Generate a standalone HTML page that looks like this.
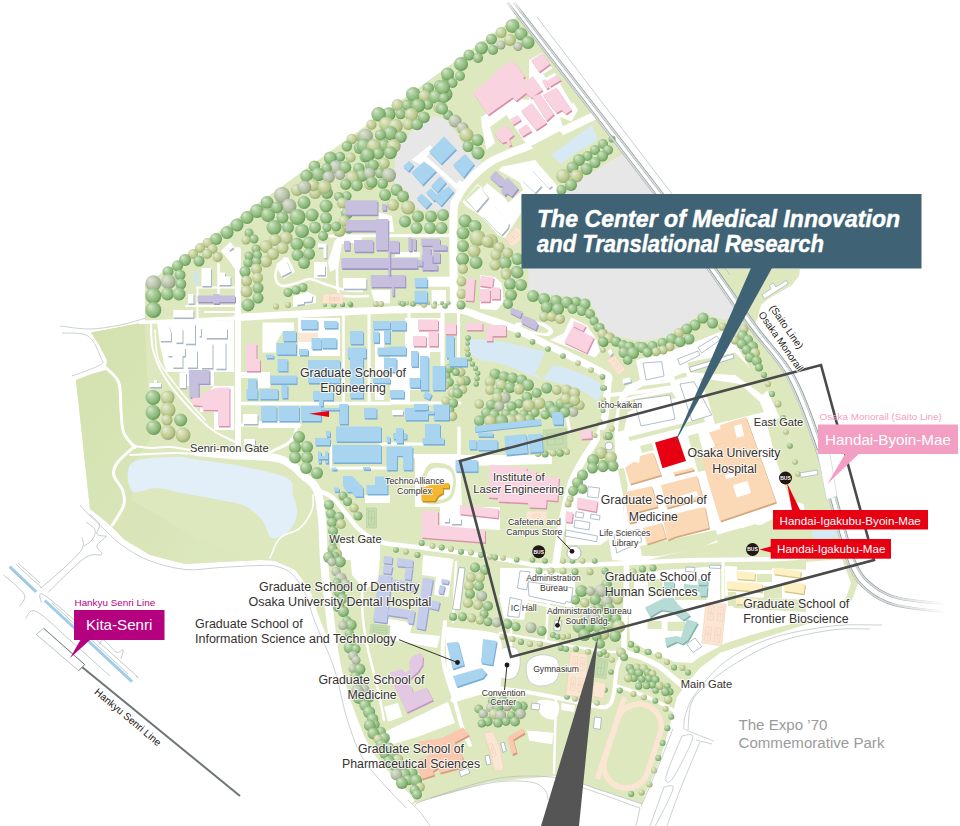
<!DOCTYPE html>
<html><head><meta charset="utf-8"><title>Campus Map</title>
<style>
html,body{margin:0;padding:0;background:#fff;}
body{width:960px;height:826px;overflow:hidden;font-family:"Liberation Sans",sans-serif;}
svg{display:block;font-family:"Liberation Sans",sans-serif;}
</style></head><body>
<svg width="960" height="826" viewBox="0 0 960 826">
<rect width="960" height="826" fill="#fff"/>
<defs><linearGradient id="gw" x1="0" y1="0" x2="1" y2="1"><stop offset="0" stop-color="#d3e1ae"/><stop offset="1" stop-color="#dde8bf"/></linearGradient><radialGradient id="tg" cx=".42" cy=".42" fx=".3" fy=".27" r=".62"><stop offset="0" stop-color="#d6e8cb"/><stop offset=".4" stop-color="#aacc9b"/><stop offset=".72" stop-color="#8bb97a"/><stop offset=".92" stop-color="#6e9f5f"/><stop offset="1" stop-color="#5a8b4d"/></radialGradient><radialGradient id="ty" cx=".42" cy=".42" fx=".3" fy=".27" r=".62"><stop offset="0" stop-color="#e7edd5"/><stop offset=".4" stop-color="#cfd9ac"/><stop offset=".72" stop-color="#b9c78b"/><stop offset=".92" stop-color="#9fae72"/><stop offset="1" stop-color="#8d9c61"/></radialGradient><radialGradient id="tk" cx=".42" cy=".42" fx=".3" fy=".27" r=".62"><stop offset="0" stop-color="#e0e5d7"/><stop offset=".42" stop-color="#c6cfb9"/><stop offset=".75" stop-color="#acb89d"/><stop offset=".93" stop-color="#929f83"/><stop offset="1" stop-color="#818f74"/></radialGradient><linearGradient id="fade" x1="0" y1="0" x2="1" y2="0"><stop offset="0" stop-color="#fff" stop-opacity="0"/><stop offset="1" stop-color="#fff" stop-opacity="1"/></linearGradient><linearGradient id="fadev" x1="0" y1="1" x2="0" y2="0"><stop offset="0" stop-color="#fff" stop-opacity="0"/><stop offset="1" stop-color="#fff" stop-opacity=".8"/></linearGradient></defs>
<polygon points="518,16 655,194 709,270 750,325 787,375 815,445 832,505 848,560 858,583 852,600 820,620 770,636 720,653 700,668 688,682 677,697 670,725 660,760 646,792 642,804 582,784 555,776 490,782 412,804 372,760 355,720 340,666 320,620 310,590 295,570 275,561 260,560 220,562 185,564 150,555 125,540 110,525 90,509 76,380 92,374 106,370 107,360 98,343 91,332.5 120,327 145,322 145,285" fill="#dde8bf" />
<polygon points="76,380 92,374 106,370 107,360 98,343 91,332.5 120,327 145,322 150,440 135,460 132,500 200,540 260,560 220,562 185,564 150,555 125,540 110,525 90,509" fill="url(#gw)" />
<polygon points="716,269 800,269 799,276 791.5,285.5 768,299 761,305 757.5,318 754,326 745,312 730,290" fill="#dde8bf" />
<!-- base.py -->
<polygon points="396.5,146.5 406.5,138 415,126.5 426.5,120 436.5,116 446.5,120 456.5,133 463,145 473,156.5 481.5,161.5 473,173 463,183 456.5,190 451.5,203 450,211.5 420,210 413,205 406.5,193 398,185 393,180 395,163" fill="#e7e7e7" />
<polygon points="560,192 622,154 655,194 709,270 737,310 726,320 716,318 703,312.5 687,323 667,336.5 642,341.5 617,336.5 600,325 597,315 588,299 560,296 528.3,291 528.3,200" fill="#e7e7e7" />
<path d="M132 463 C139.2 457.3 163.7 457.5 175 457 C186.3 456.5 189.2 458.5 200 460 C210.8 461.5 225.5 463.0 240 466 C254.5 469.0 278.2 473.2 287 478 C295.8 482.8 291.3 489.3 293 495 C294.7 500.7 297.5 506.2 297 512 C296.5 517.8 294.2 525.7 290 530 C285.8 534.3 276.7 539.7 272 538 C267.3 536.3 266.5 525.3 262 520 C257.5 514.7 252.0 509.3 245 506 C238.0 502.7 230.5 502.2 220 500 C209.5 497.8 192.5 495.0 182 493 C171.5 491.0 165.3 488.3 157 488 C148.7 487.7 136.2 495.2 132 491 C127.8 486.8 124.8 468.7 132 463Z" fill="#e2eef8" />
<polygon points="551,155 592,125 598,140 575,153 561,164" fill="#d8e9f6" />
<polygon points="468,333 471,339 490,340 509,343 527.5,347.5 545,351.7 541,362 535,373.5 543,380 553.5,365 565,368 586,375.6 600,383 601.5,393 598,401.7 586,393 573,387 559,383 544,380 527.5,374.6 509,366 494,362 479.6,360 471,354 468,343" fill="#d8e9f6" />
<!-- roads.py -->
<polyline points="140,322.5 238,318" fill="none" stroke="#fff" stroke-width="3.5" stroke-linecap="round" stroke-linejoin="round"/>
<path d="M237 317.5 C247.5 316.9 274.5 315.2 300 314 C325.5 312.8 364.2 310.8 390 310 C415.8 309.2 440.0 308.4 455 309.5 C470.0 310.6 470.3 313.4 480 316.5 C489.7 319.6 501.3 323.1 513 328 C524.7 332.9 538.8 340.5 550 346 C561.2 351.5 570.5 356.2 580 361 C589.5 365.8 602.0 371.5 606.7 375 C611.4 378.5 608.0 378.2 608 382 C608.0 385.8 607.2 391.8 606.7 397.5 C606.2 403.2 605.8 411.4 605 416.5 C604.2 421.6 603.8 423.6 602 428 C600.2 432.4 597.2 437.7 594 443 C590.8 448.3 586.7 453.7 583 460 C579.3 466.3 575.0 473.2 572 481 C569.0 488.8 567.0 498.0 565 507 C563.0 516.0 561.5 525.8 560 535 C558.5 544.2 556.7 557.5 556 562" fill="none" stroke="#fff" stroke-width="7.2" stroke-linecap="round" stroke-linejoin="round"/>
<polyline points="238,250 238,455" fill="none" stroke="#fff" stroke-width="6" stroke-linecap="round" stroke-linejoin="round"/>
<path d="M196 452 C201.7 452.5 216.0 453.8 230 455 C244.0 456.2 267.5 455.3 280 459 C292.5 462.7 298.8 471.8 305 477 C311.2 482.2 314.2 482.8 317 490 C319.8 497.2 320.8 508.3 322 520 C323.2 531.7 323.0 546.7 324 560 C325.0 573.3 325.8 582.3 328 600 C330.2 617.7 333.0 646.7 337 666 C341.0 685.3 346.2 700.7 352 716 C357.8 731.3 362.3 744.0 372 758 C381.7 772.0 403.7 793.0 410 800" fill="none" stroke="#fff" stroke-width="8" stroke-linecap="round" stroke-linejoin="round"/>
<path d="M317 490 C319.7 491.3 328.0 493.8 333 498 C338.0 502.2 342.5 509.7 347 515 C351.5 520.3 354.5 525.5 360 530 C365.5 534.5 370.0 539.1 380 542 C390.0 544.9 405.0 545.5 420 547.5 C435.0 549.5 455.0 551.8 470 554 C485.0 556.2 498.3 558.6 510 560.5 C521.7 562.4 528.3 564.8 540 565.5 C551.7 566.2 566.7 565.3 580 565 C593.3 564.7 606.7 564.1 620 563.5 C633.3 562.9 646.7 562.1 660 561.5 C673.3 560.9 680.0 560.4 700 560 C720.0 559.6 760.8 559.7 780 559 C799.2 558.3 809.2 556.5 815 556" fill="none" stroke="#fff" stroke-width="4.5" stroke-linecap="round" stroke-linejoin="round"/>
<path d="M313 495 C312.8 497.5 314.2 504.5 312 510 C309.8 515.5 305.3 523.3 300 528 C294.7 532.7 285.0 533.0 280 538 C275.0 543.0 271.7 554.7 270 558" fill="none" stroke="#fff" stroke-width="1.6" stroke-linecap="round" stroke-linejoin="round"/>
<path d="M297 425 C296.5 426.8 295.7 432.8 294 436 C292.3 439.2 291.0 441.3 287 444 C283.0 446.7 272.8 450.7 270 452" fill="none" stroke="#fff" stroke-width="3" stroke-linecap="round" stroke-linejoin="round"/>
<polyline points="343.5,314 343.5,402" fill="none" stroke="#fff" stroke-width="2.5" stroke-linecap="round" stroke-linejoin="round"/>
<polyline points="369,314 369,404" fill="none" stroke="#fff" stroke-width="3" stroke-linecap="round" stroke-linejoin="round"/>
<polyline points="409,314 409,356" fill="none" stroke="#fff" stroke-width="3" stroke-linecap="round" stroke-linejoin="round"/>
<polyline points="442.5,314 442.5,366" fill="none" stroke="#fff" stroke-width="4" stroke-linecap="round" stroke-linejoin="round"/>
<polyline points="458.5,312 458.5,372" fill="none" stroke="#fff" stroke-width="3" stroke-linecap="round" stroke-linejoin="round"/>
<polyline points="331,445 331,468" fill="none" stroke="#fff" stroke-width="2" stroke-linecap="round" stroke-linejoin="round"/>
<polyline points="459,428 459,458" fill="none" stroke="#fff" stroke-width="3.5" stroke-linecap="round" stroke-linejoin="round"/>
<polyline points="300,314 300,322" fill="none" stroke="#fff" stroke-width="2" stroke-linecap="round" stroke-linejoin="round"/>
<polyline points="241,403.5 390,403.5" fill="none" stroke="#fff" stroke-width="3.5" stroke-linecap="round" stroke-linejoin="round"/>
<polyline points="241,425 300,425" fill="none" stroke="#fff" stroke-width="3" stroke-linecap="round" stroke-linejoin="round"/>
<polyline points="333,468 390,468" fill="none" stroke="#fff" stroke-width="3" stroke-linecap="round" stroke-linejoin="round"/>
<polyline points="390,456 460,456" fill="none" stroke="#fff" stroke-width="4" stroke-linecap="round" stroke-linejoin="round"/>
<polyline points="381,444 425,444" fill="none" stroke="#fff" stroke-width="3" stroke-linecap="round" stroke-linejoin="round"/>
<polyline points="390,403 460,403" fill="none" stroke="#fff" stroke-width="3" stroke-linecap="round" stroke-linejoin="round"/>
<polygon points="262.5,322.5 294,322.5 294,331 283,331 276,343 276,352.5 262.5,352.5" fill="#fff" />
<polygon points="298,318 340,318 340,356 298,356" fill="#fff" />
<polygon points="241,372 270,372 270,388 258,388 258,378 241,378" fill="#fff" />
<polygon points="258,421 300,421 300,428 258,428" fill="#fff" />
<polygon points="405,318 441,318 441,352 430,352 430,390 405,390" fill="#fff" />
<polygon points="375,330 384,330 384,400 375,400" fill="#fff" />
<polygon points="390,356 410,356 410,404 390,404" fill="#fff" />
<polygon points="340,543 380,543 380,560 340,560" fill="#fff" />
<polygon points="365,495 390,495 390,503 365,503" fill="#fff" />
<polygon points="415,458 460,458 462,507 415,507" fill="#fff" />
<path d="M432 463 C436.3 462.0 446.0 463.2 450 466 C454.0 468.8 455.7 474.7 456 480 C456.3 485.3 455.0 494.0 452 498 C449.0 502.0 442.7 503.3 438 504 C433.3 504.7 427.0 504.7 424 502 C421.0 499.3 420.0 493.0 420 488 C420.0 483.0 422.0 476.2 424 472 C426.0 467.8 427.7 464.0 432 463Z" fill="#dde8bf" />
<path d="M434 468 C437.7 467.2 445.8 467.8 449 470 C452.2 472.2 453.0 476.7 453 481 C453.0 485.3 451.5 492.8 449 496 C446.5 499.2 441.7 499.7 438 500 C434.3 500.3 429.3 500.2 427 498 C424.7 495.8 424.0 490.8 424 487 C424.0 483.2 425.3 478.2 427 475 C428.7 471.8 430.3 468.8 434 468Z" fill="#fff" />
<polygon points="460,455 552,455 552,464 460,466" fill="#fff" />
<polygon points="440,507 500,507 500,530 440,527" fill="#fff" />
<polygon points="221,251 230,242 236,248 241,260 240,290 235.5,290 235.5,270 230,262" fill="#fff" />
<polyline points="218.5,264 218.5,293" fill="none" stroke="#fff" stroke-width="2.5" stroke-linecap="round" stroke-linejoin="round"/>
<polyline points="197,287.5 238,287.5" fill="none" stroke="#fff" stroke-width="2" stroke-linecap="round" stroke-linejoin="round"/>
<polyline points="197.5,287 197.5,320" fill="none" stroke="#fff" stroke-width="2" stroke-linecap="round" stroke-linejoin="round"/>
<polyline points="186,306 238,306" fill="none" stroke="#fff" stroke-width="2" stroke-linecap="round" stroke-linejoin="round"/>
<polyline points="205,312 238,312" fill="none" stroke="#fff" stroke-width="2" stroke-linecap="round" stroke-linejoin="round"/>
<path d="M285 258 C283.7 259.7 278.5 264.3 277 268 C275.5 271.7 275.0 277.0 276 280 C277.0 283.0 279.0 285.7 283 286 C287.0 286.3 295.5 283.2 300 282 C304.5 280.8 305.8 278.7 310 279 C314.2 279.3 319.2 282.2 325 284 C330.8 285.8 338.8 288.8 345 290 C351.2 291.2 359.2 290.8 362 291" fill="none" stroke="#fff" stroke-width="2.5" stroke-linecap="round" stroke-linejoin="round"/>
<polygon points="276,264 288,257 295,272 283,279" fill="#fff" />
<polygon points="293,296 308,292 316,296 316,303 293,307" fill="#fff" />
<polygon points="328,262 335,240 345,236 362,236 362,242 342,244 338,268 330,272" fill="#fff" />
<polygon points="314,262 327,262 327,278 314,278" fill="#fff" />
<path d="M454 308 C453.9 292.5 452.8 233.5 453.5 215 C454.2 196.5 455.8 202.3 458 197 C460.2 191.7 463.3 187.5 467 183 C470.7 178.5 475.8 173.7 480 170 C484.2 166.3 487.0 163.8 492 161 C497.0 158.2 504.3 155.3 510 153 C515.7 150.7 517.7 150.5 526 147 C534.3 143.5 547.7 137.7 560 132 C572.3 126.3 593.3 116.2 600 113" fill="none" stroke="#fff" stroke-width="8" stroke-linecap="round" stroke-linejoin="round"/>
<polygon points="411.5,160 430,145 433.5,148.5 426.5,156.5 456.5,183.5 460,180 463.5,183.5 456.5,190 430,165 418.5,163.5" fill="#fff" />
<polygon points="481,117 513,98 529,100 529,60 542.5,52.5 578,110 571.5,121.5 560,117 563,127 527,145 506.5,115 490,127 495,143 486.5,150 482,127" fill="#fff" />
<polygon points="543,74 553,68 556,72 546,78" fill="#dde8bf" />
<polygon points="560,84 566,80 576,98 572,104" fill="#dde8bf" />
<polygon points="531,146 560,131 563,135 535,150" fill="#dde8bf" />
<polygon points="341,200 346,200 346,232 341,232" fill="#fff" />
<polyline points="330,236 450,235.5" fill="none" stroke="#fff" stroke-width="3" stroke-linecap="round" stroke-linejoin="round"/>
<path d="M338 238 C337.8 242.0 337.0 253.3 337 262 C337.0 270.7 336.7 284.3 338 290 C339.3 295.7 340.0 295.0 345 296 C350.0 297.0 364.2 296.0 368 296" fill="none" stroke="#fff" stroke-width="2.5" stroke-linecap="round" stroke-linejoin="round"/>
<polygon points="341,203 347,198 347,232 341,232" fill="#fff" />
<polygon points="378,212 392,216 394,232 380,232" fill="#fff" />
<polygon points="427.5,276.7 450,276.7 450,286.7 427.5,286.7" fill="#fff" />
<polygon points="431.7,290 446,290 446,304 431.7,304" fill="#fff" />
<polygon points="370.8,290 390,290 390,303.3 375,303.3" fill="#fff" />
<polygon points="395,252 420,252 420,257 395,257" fill="#fff" />
<polygon points="462.5,201.7 477.5,184 483,188 501.7,166.7 535,160 556.7,185 556.7,196 521,196 521,213 505,238 498,235 483,218 475,212 466.7,206.7" fill="#fff" />
<polygon points="481,178 494,167.5 520,182.5 523,190 508,203 505,198" fill="#dde8bf" />
<polygon points="464,200 478,185 490,198 478,213" fill="#dde8bf" />
<polygon points="505,238.3 516.7,226.7 521,230 521,240 511.7,247.5" fill="#fbe6d4" stroke="#f0cdb2" stroke-width="0.5" />
<polygon points="480,275 495,277 502,284 503.5,302 497,310 480,309" fill="#fff" />
<path d="M515.8 323.3 C519.1 322.1 532.3 321.1 538 321.7 C543.7 322.3 547.5 324.9 550 326.7 C552.5 328.5 553.5 330.9 553 332.5 C552.5 334.1 550.5 335.9 546.7 336 C542.9 336.1 534.8 334.2 530 333 C525.2 331.8 520.4 330.6 518 329 C515.6 327.4 512.5 324.5 515.8 323.3Z" fill="#fff" />
<path d="M521 325.5 C522.3 324.6 533.7 324.4 538 325 C542.3 325.6 545.3 327.8 547 329 C548.7 330.2 548.5 331.3 548 332 C547.5 332.7 547.0 333.2 544 333 C541.0 332.8 533.8 331.8 530 330.5 C526.2 329.2 519.7 326.4 521 325.5Z" fill="#dde8bf" />
<polygon points="571,317.5 586.7,325 596.7,340 600,351.7 595,357.5 550,340 564,333" fill="#fff" />
<polygon points="636,360 668,352 700,340 722,331 738,348 752,372 768,392 790,440 800,480 806,520 640,562 612,560 606,520 612,440 618,400 626,386 640,380" fill="#fff" />
<polygon points="687.5,362.5 735,352.5 745,362.5 767.5,390 762.5,395 735,375 690,372.5" fill="#dde8bf" />
<polygon points="642.5,386 670,382.5 672.5,388 625,398" fill="#dde8bf" />
<polygon points="674,376.7 683,373 686.7,373 686.7,376.7 675,380" fill="#dde8bf" />
<polygon points="620,402 672,392 676,398 640,406 628,412 624,430 618,432" fill="#dde8bf" />
<polygon points="700,378 740,384 760,402 764,412 715,424 708,400" fill="#dde8bf" />
<polygon points="628,437 704,418 705,422 630,441" fill="#dde8bf" />
<polygon points="640,446 652,443 654,450 642,453" fill="#dde8bf" />
<polygon points="688,436 698,433 708,470 698,472" fill="#dde8bf" />
<polygon points="716,535 770,520 800,508 806,520 800,540 720,556" fill="#dde8bf" />
<polygon points="640,546 716,530 718,540 700,548 660,556 642,556" fill="#dde8bf" />
<polygon points="612,470 624,468 628,486 622,520 612,524" fill="#dde8bf" />
<polygon points="766,420 782,418 800,470 806,505 790,500 776,460" fill="#dde8bf" />
<polygon points="600,430 614,428 616,470 600,472" fill="#dde8bf" />
<polygon points="586,470 600,462 618,470 624,500 622,530 600,545 566,545 566,510 575,495" fill="#fff" />
<path d="M626.5 566 C626.4 571.7 626.4 587.7 626 600 C625.6 612.3 624.0 631.3 624 640 C624.0 648.7 623.3 649.2 626 652 C628.7 654.8 634.3 654.5 640 657 C645.7 659.5 653.7 662.8 660 667 C666.3 671.2 673.3 678.2 678 682 C682.7 685.8 686.3 688.7 688 690" fill="none" stroke="#fff" stroke-width="5.5" stroke-linecap="round" stroke-linejoin="round"/>
<path d="M617 686 C620.8 687.3 632.8 691.2 640 694 C647.2 696.8 654.0 700.0 660 703 C666.0 706.0 673.3 710.5 676 712" fill="none" stroke="#fff" stroke-width="3.5" stroke-linecap="round" stroke-linejoin="round"/>
<path d="M500 633 C506.7 634.2 527.5 637.7 540 640 C552.5 642.3 563.3 644.7 575 646.7 C586.7 648.7 601.5 651.5 610 652 C618.5 652.5 623.3 650.3 626 650" fill="none" stroke="#fff" stroke-width="2.5" stroke-linecap="round" stroke-linejoin="round"/>
<polyline points="511,575 511,656" fill="none" stroke="#fff" stroke-width="2.5" stroke-linecap="round" stroke-linejoin="round"/>
<polyline points="548,604 546,640" fill="none" stroke="#fff" stroke-width="2.5" stroke-linecap="round" stroke-linejoin="round"/>
<path d="M500 596 C508.0 597.7 535.5 603.3 548 606 C560.5 608.7 570.5 611.0 575 612" fill="none" stroke="#fff" stroke-width="2.5" stroke-linecap="round" stroke-linejoin="round"/>
<polygon points="500,568 530,568 575,576 575,608 528,600 524,620 504,618 500,600" fill="#fff" />
<path d="M527 663 C528.8 658.7 534.8 655.8 539.6 655 C544.4 654.2 552.4 655.8 555.6 658.3 C558.8 660.8 559.0 666.0 559 669.8 C559.0 673.6 558.4 678.3 555.6 681 C552.8 683.7 546.4 686.0 542 686 C537.6 686.0 531.5 684.8 529 681 C526.5 677.2 525.2 667.3 527 663Z" fill="#fff" stroke="#b7c3cd" stroke-width="0.7" />
<path d="M498 653.7 C499.1 648.8 504.2 647.6 507.5 647 C510.8 646.4 515.7 647.0 517.8 650 C519.9 653.0 520.6 660.4 520 665 C519.4 669.6 517.2 675.8 514 677.8 C510.8 679.8 503.3 680.7 500.6 676.7 C497.9 672.7 496.9 658.7 498 653.7Z" fill="#fff" stroke="#b7c3cd" stroke-width="0.7" />
<polygon points="628,596 645,598 664,596 712,600 730,600 734,608 806,612 846,602 836,616 800,622 779,627 753,634.5 726,643 700,657 692,663 675,662 650,652 630,640" fill="#fff" />
<polygon points="634,574 664,570 720,566 720,600 634,600" fill="#fff" />
<polygon points="647.5,621 661.7,621 661.7,629 647.5,629" fill="#dde8bf" />
<polygon points="667.5,621.7 685,621.7 685,631 667.5,631" fill="#dde8bf" />
<polygon points="648,580 663,578 662,595 648,597" fill="#dde8bf" />
<polygon points="675,595 706.7,595 706.7,600 675,600" fill="#dde8bf" />
<polygon points="640,568 718,563 718,566 640,571" fill="#dde8bf" />
<polyline points="723,562 723,602" fill="none" stroke="#fff" stroke-width="3" stroke-linecap="round" stroke-linejoin="round"/>
<polygon points="725,566 812,570 810,600 725,596" fill="#fff" />
<polygon points="737,566 772,566 772,570 737,570" fill="#dde8bf" />
<polygon points="757,574 772,574 772,582 757,582" fill="#dde8bf" />
<polygon points="764,586 782,586 782,598 764,598" fill="#dde8bf" />
<polygon points="728,592 736,592 736,606 728,606" fill="#dde8bf" />
<polygon points="806,562 842,559 851,583 846,598 833,613 806,612" fill="#fff" />
<path d="M722 528 C724.2 527.3 731.7 524.2 735 524 C738.3 523.8 739.2 527.3 742 527 C744.8 526.7 749.0 522.5 752 522 C755.0 521.5 756.7 524.7 760 524 C763.3 523.3 767.7 520.0 772 518 C776.3 516.0 783.7 513.0 786 512" fill="none" stroke="#fff" stroke-width="2" stroke-linecap="round" stroke-linejoin="round"/>
<polygon points="423,555 453.5,559 448.5,597 434,595 436,577 422,575" fill="#fff" />
<polygon points="385,618 413,623 410,633 440,636 437,648 390,640" fill="#fff" />
<polygon points="445,626.7 485,631 500,634 504,660 500,690 456,700 447,678" fill="#fff" />
<polyline points="456,562 453,622" fill="none" stroke="#fff" stroke-width="2.5" stroke-linecap="round" stroke-linejoin="round"/>
<path d="M445 622 C444.7 628.3 441.3 646.7 443 660 C444.7 673.3 451.8 690.5 455 701.7 C458.2 712.9 459.5 719.8 462 727 C464.5 734.2 468.7 742.0 470 745" fill="none" stroke="#fff" stroke-width="4" stroke-linecap="round" stroke-linejoin="round"/>
<path d="M453 700 L480 692" fill="none" stroke="#fff" stroke-width="5" stroke-linecap="round" stroke-linejoin="round"/>
<path d="M366 552 C365.3 560.0 362.0 585.3 362 600 C362.0 614.7 363.3 625.0 366 640 C368.7 655.0 375.0 676.7 378 690 C381.0 703.3 383.0 715.0 384 720" fill="none" stroke="#fff" stroke-width="2.5" stroke-linecap="round" stroke-linejoin="round"/>
<polygon points="384,706.7 398,703 402.5,716.7 388,721.7" fill="#fff" />
<polygon points="385,731.7 448,701.7 455,723 418,736.7 390,745" fill="#fff" />
<polygon points="350,553 372,556 372,562 350,560" fill="#fff" />
<path d="M478 686 C485.0 686.8 507.0 689.1 520 691 C533.0 692.9 544.3 695.2 556 697.5 C567.7 699.8 581.7 703.4 590 705 C598.3 706.6 602.2 708.3 606 707 C609.8 705.7 611.2 703.5 613 697 C614.8 690.5 615.5 675.0 617 668 C618.5 661.0 621.2 657.2 622 655" fill="none" stroke="#fff" stroke-width="4" stroke-linecap="round" stroke-linejoin="round"/>
<polyline points="556,697 554,773" fill="none" stroke="#fff" stroke-width="2.5" stroke-linecap="round" stroke-linejoin="round"/>
<polygon points="527,730.5 553.3,732.8 552.2,744.3 529.3,740.8" fill="#fff" />
<path d="M538.4 700.7 C541.1 698.6 555.1 700.0 558 703 C560.9 706.0 558.3 716.9 555.6 719 C552.9 721.1 544.8 718.6 541.9 715.6 C539.0 712.6 535.7 702.8 538.4 700.7Z" fill="#fff" />
<polygon points="561.3,703 575,705.3 574,712 561.3,710" fill="#fff" />
<g transform="rotate(18 632.5 746)"><rect x="610" y="703" width="45" height="86" rx="22.5" fill="none" stroke="#fbe6d4" stroke-width="5.5"/></g>
<polyline points="624.5,697 597.5,779" fill="none" stroke="#fbe6d4" stroke-width="5.5" />
<path d="M106 368 C108.1 370.4 116.2 375.5 118.7 382.5 C121.2 389.5 120.2 401.7 121 410 C121.8 418.3 121.4 426.2 123.7 432.5 C126.0 438.8 133.1 445.0 135 447.5" fill="none" stroke="#fff" stroke-width="3" stroke-linecap="round" stroke-linejoin="round"/>
<path d="M135 446 C132.1 448.8 121.0 457.7 117.5 462.5 C114.0 467.3 112.9 470.4 113.7 475 C114.5 479.6 120.8 485.0 122.5 490 C124.2 495.0 125.4 499.2 123.7 505 C122.0 510.8 114.4 521.7 112.5 525" fill="none" stroke="#fff" stroke-width="3" stroke-linecap="round" stroke-linejoin="round"/>
<polygon points="157,322 234,320 234,372 214,372 214,386 186,386 186,372 166,372 160,345" fill="#fff" />
<path d="M151 323.7 C151.4 328.5 150.5 342.3 153.7 352.5 C156.9 362.7 161.0 372.8 170 385 C179.0 397.2 196.7 416.5 207.5 426 C218.3 435.5 230.4 439.3 235 442" fill="none" stroke="#fff" stroke-width="2" stroke-linecap="round" stroke-linejoin="round"/>
<path d="M155 330 C155.6 335.0 154.9 350.4 158.7 360 C162.4 369.6 169.8 377.5 177.5 387.5 C185.2 397.5 200.4 414.6 205 420" fill="none" stroke="#fff" stroke-width="1.5" stroke-linecap="round" stroke-linejoin="round"/>
<polygon points="214,386 234,386 234,430 214,430 214,412 200,412 200,400" fill="#fff" />
<path d="M134 446 C136.7 446.3 144.0 447.8 150 448 C156.0 448.2 162.3 446.5 170 447 C177.7 447.5 191.7 450.3 196 451" fill="none" stroke="#fff" stroke-width="2" stroke-linecap="round" stroke-linejoin="round"/>
<path d="M130 455 C133.3 454.8 142.5 454.3 150 454 C157.5 453.7 167.3 453.0 175 453 C182.7 453.0 192.5 453.8 196 454" fill="none" stroke="#fff" stroke-width="1.8" stroke-linecap="round" stroke-linejoin="round"/>
<polygon points="350,552 380,556 378,580 365,590 352,575" fill="#fff" />
<polyline points="566,412 570,432" fill="none" stroke="#fff" stroke-width="3" stroke-linecap="round" stroke-linejoin="round"/>
<path d="M609 395 C614.2 394.5 629.8 393.2 640 392 C650.2 390.8 661.5 389.0 670 387.5 C678.5 386.0 687.5 383.8 691 383" fill="none" stroke="#fff" stroke-width="4" stroke-linecap="round" stroke-linejoin="round"/>
<!-- trees.py -->
<circle cx="297.0" cy="190.0" r="6.0" fill="url(#ty)"/>
<circle cx="315.0" cy="193.0" r="6.0" fill="url(#ty)"/>
<circle cx="327.0" cy="193.0" r="6.0" fill="url(#tg)"/>
<circle cx="282.0" cy="195.0" r="8.0" fill="url(#tk)"/>
<circle cx="267.0" cy="202.5" r="6.5" fill="url(#tg)"/>
<circle cx="304.0" cy="202.5" r="6.5" fill="url(#tg)"/>
<circle cx="289.0" cy="206.0" r="7.5" fill="url(#tk)"/>
<circle cx="326.0" cy="206.0" r="6.5" fill="url(#tg)"/>
<circle cx="277.0" cy="207.5" r="6.0" fill="url(#tg)"/>
<circle cx="257.0" cy="211.0" r="7.0" fill="url(#tg)"/>
<circle cx="268.0" cy="215.0" r="7.0" fill="url(#tg)"/>
<circle cx="312.0" cy="215.0" r="6.5" fill="url(#tg)"/>
<circle cx="297.5" cy="217.0" r="8.0" fill="url(#tg)"/>
<circle cx="247.0" cy="217.5" r="6.5" fill="url(#tg)"/>
<circle cx="282.5" cy="217.5" r="6.0" fill="url(#tg)"/>
<circle cx="326.0" cy="218.0" r="6.0" fill="url(#tg)"/>
<circle cx="237.0" cy="225.0" r="6.5" fill="url(#tg)"/>
<circle cx="336.0" cy="227.0" r="4.5" fill="url(#tg)"/>
<circle cx="274.0" cy="227.5" r="7.5" fill="url(#tg)"/>
<circle cx="288.0" cy="227.5" r="6.0" fill="url(#tg)"/>
<circle cx="315.0" cy="227.5" r="6.0" fill="url(#tg)"/>
<circle cx="327.0" cy="227.5" r="4.5" fill="url(#tg)"/>
<circle cx="302.0" cy="231.0" r="7.0" fill="url(#tg)"/>
<circle cx="227.0" cy="232.5" r="6.5" fill="url(#tg)"/>
<circle cx="249.0" cy="233.0" r="4.5" fill="url(#tg)"/>
<circle cx="323.0" cy="236.0" r="5.0" fill="url(#tg)"/>
<circle cx="286.0" cy="238.0" r="6.5" fill="url(#ty)"/>
<circle cx="216.0" cy="239.0" r="6.0" fill="url(#tg)"/>
<circle cx="254.0" cy="239.0" r="4.5" fill="url(#tg)"/>
<circle cx="275.0" cy="240.0" r="6.0" fill="url(#ty)"/>
<circle cx="246.0" cy="240.0" r="4.5" fill="url(#ty)"/>
<circle cx="207.5" cy="243.0" r="5.0" fill="url(#ty)"/>
<circle cx="309.0" cy="243.0" r="6.5" fill="url(#tg)"/>
<circle cx="297.0" cy="244.0" r="6.5" fill="url(#tg)"/>
<circle cx="266.0" cy="246.5" r="6.5" fill="url(#ty)"/>
<circle cx="200.0" cy="248.0" r="5.0" fill="url(#ty)"/>
<circle cx="282.5" cy="248.0" r="6.0" fill="url(#ty)"/>
<circle cx="212.5" cy="249.0" r="5.0" fill="url(#ty)"/>
<circle cx="256.0" cy="249.0" r="4.5" fill="url(#tg)"/>
<circle cx="193.0" cy="254.0" r="5.0" fill="url(#ty)"/>
<circle cx="207.0" cy="254.0" r="5.0" fill="url(#ty)"/>
<circle cx="309.0" cy="254.0" r="6.0" fill="url(#tg)"/>
<circle cx="273.0" cy="254.0" r="6.0" fill="url(#ty)"/>
<circle cx="297.5" cy="255.0" r="6.0" fill="url(#tg)"/>
<circle cx="257.5" cy="255.0" r="4.5" fill="url(#tg)"/>
<circle cx="249.0" cy="256.0" r="4.5" fill="url(#tg)"/>
<circle cx="217.5" cy="257.0" r="5.0" fill="url(#ty)"/>
<circle cx="185.0" cy="260.0" r="6.0" fill="url(#tg)"/>
<circle cx="199.0" cy="261.0" r="5.5" fill="url(#tg)"/>
<circle cx="266.0" cy="261.5" r="6.0" fill="url(#ty)"/>
<circle cx="256.5" cy="261.5" r="4.5" fill="url(#tg)"/>
<circle cx="304.0" cy="263.0" r="6.0" fill="url(#tg)"/>
<circle cx="248.0" cy="263.0" r="4.5" fill="url(#tg)"/>
<circle cx="256.5" cy="269.0" r="5.5" fill="url(#ty)"/>
<circle cx="245.0" cy="271.5" r="5.5" fill="url(#tg)"/>
<circle cx="257.5" cy="278.0" r="5.5" fill="url(#ty)"/>
<circle cx="246.5" cy="281.0" r="5.5" fill="url(#ty)"/>
<circle cx="303.0" cy="287.5" r="4.5" fill="url(#tg)"/>
<circle cx="258.0" cy="288.0" r="5.5" fill="url(#tg)"/>
<circle cx="296.0" cy="290.0" r="4.5" fill="url(#tg)"/>
<circle cx="246.5" cy="291.5" r="6.0" fill="url(#ty)"/>
<circle cx="288.0" cy="292.5" r="4.5" fill="url(#tg)"/>
<circle cx="258.0" cy="298.0" r="5.5" fill="url(#tg)"/>
<circle cx="248.0" cy="305.0" r="6.5" fill="url(#tg)"/>
<circle cx="288.0" cy="305.0" r="3.0" fill="url(#ty)"/>
<circle cx="325.0" cy="305.0" r="2.0" fill="url(#tg)"/>
<circle cx="333.0" cy="305.0" r="2.0" fill="url(#tg)"/>
<circle cx="343.0" cy="305.0" r="2.0" fill="url(#tg)"/>
<circle cx="351.0" cy="305.0" r="2.4" fill="url(#tg)"/>
<circle cx="276.0" cy="306.5" r="3.0" fill="url(#ty)"/>
<circle cx="177.5" cy="265.8" r="5.5" fill="url(#tg)"/>
<circle cx="168.0" cy="271.7" r="5.5" fill="url(#tg)"/>
<circle cx="180.0" cy="275.0" r="5.5" fill="url(#tg)"/>
<circle cx="168.3" cy="281.7" r="7.5" fill="url(#tk)"/>
<circle cx="153.3" cy="283.3" r="8.0" fill="url(#tk)"/>
<circle cx="180.8" cy="284.0" r="5.5" fill="url(#tg)"/>
<circle cx="167.5" cy="294.0" r="6.5" fill="url(#tg)"/>
<circle cx="179.0" cy="294.0" r="6.5" fill="url(#tg)"/>
<circle cx="153.3" cy="295.8" r="8.0" fill="url(#tg)"/>
<circle cx="153.3" cy="310.0" r="8.0" fill="url(#tg)"/>
<circle cx="362.3" cy="138.0" r="5.9" fill="url(#tg)"/>
<circle cx="351.8" cy="139.0" r="5.3" fill="url(#ty)"/>
<circle cx="346.9" cy="146.3" r="5.2" fill="url(#tg)"/>
<circle cx="368.0" cy="147.5" r="5.5" fill="url(#tg)"/>
<circle cx="359.4" cy="148.1" r="5.8" fill="url(#tg)"/>
<circle cx="340.1" cy="156.7" r="5.0" fill="url(#tg)"/>
<circle cx="364.8" cy="157.1" r="5.3" fill="url(#tg)"/>
<circle cx="350.6" cy="157.5" r="5.1" fill="url(#ty)"/>
<circle cx="330.2" cy="157.9" r="6.4" fill="url(#tg)"/>
<circle cx="370.6" cy="165.4" r="5.6" fill="url(#tg)"/>
<circle cx="314.4" cy="166.2" r="5.8" fill="url(#tg)"/>
<circle cx="336.0" cy="167.1" r="6.9" fill="url(#tk)"/>
<circle cx="345.2" cy="167.3" r="6.1" fill="url(#tg)"/>
<circle cx="326.6" cy="168.3" r="5.2" fill="url(#tg)"/>
<circle cx="358.8" cy="168.5" r="5.8" fill="url(#tg)"/>
<circle cx="318.1" cy="174.3" r="6.9" fill="url(#tg)"/>
<circle cx="340.0" cy="174.8" r="5.1" fill="url(#tk)"/>
<circle cx="361.8" cy="175.7" r="6.2" fill="url(#tg)"/>
<circle cx="306.4" cy="175.8" r="6.2" fill="url(#tg)"/>
<circle cx="328.6" cy="177.1" r="6.2" fill="url(#tk)"/>
<circle cx="352.2" cy="177.6" r="6.9" fill="url(#ty)"/>
<circle cx="345.7" cy="184.4" r="5.6" fill="url(#tg)"/>
<circle cx="369.6" cy="184.5" r="5.4" fill="url(#ty)"/>
<circle cx="313.1" cy="185.2" r="6.2" fill="url(#ty)"/>
<circle cx="357.0" cy="185.5" r="5.8" fill="url(#tg)"/>
<circle cx="304.4" cy="187.2" r="6.8" fill="url(#tk)"/>
<circle cx="324.5" cy="187.2" r="6.9" fill="url(#ty)"/>
<circle cx="346.8" cy="196.1" r="4.8" fill="url(#tg)"/>
<circle cx="338.9" cy="196.7" r="4.8" fill="url(#tg)"/>
<circle cx="342.4" cy="203.0" r="5.6" fill="url(#ty)"/>
<circle cx="346.9" cy="213.3" r="6.0" fill="url(#tg)"/>
<circle cx="344.1" cy="221.0" r="5.7" fill="url(#ty)"/>
<circle cx="348.9" cy="229.1" r="4.6" fill="url(#tg)"/>
<circle cx="339.3" cy="230.9" r="6.2" fill="url(#ty)"/>
<circle cx="299.0" cy="437.0" r="6.0" fill="url(#tg)"/>
<circle cx="295.0" cy="447.5" r="6.0" fill="url(#tg)"/>
<circle cx="307.0" cy="447.0" r="6.0" fill="url(#tg)"/>
<circle cx="295.0" cy="457.5" r="6.0" fill="url(#tg)"/>
<circle cx="307.0" cy="457.5" r="6.0" fill="url(#tg)"/>
<circle cx="306.0" cy="468.0" r="6.0" fill="url(#tg)"/>
<circle cx="317.0" cy="473.0" r="6.0" fill="url(#tg)"/>
<circle cx="329.0" cy="505.0" r="5.0" fill="url(#tg)"/>
<circle cx="331.0" cy="514.0" r="5.0" fill="url(#tg)"/>
<circle cx="339.0" cy="517.0" r="5.0" fill="url(#tg)"/>
<circle cx="332.0" cy="522.5" r="5.0" fill="url(#tg)"/>
<circle cx="341.0" cy="524.0" r="5.0" fill="url(#ty)"/>
<circle cx="333.0" cy="531.0" r="5.0" fill="url(#tg)"/>
<circle cx="334.0" cy="540.0" r="5.0" fill="url(#tg)"/>
<circle cx="332.5" cy="549.0" r="5.0" fill="url(#tg)"/>
<circle cx="337.0" cy="554.0" r="5.0" fill="url(#ty)"/>
<circle cx="343.0" cy="496.0" r="4.6" fill="url(#tg)"/>
<circle cx="347.5" cy="501.5" r="4.6" fill="url(#tg)"/>
<circle cx="354.0" cy="508.0" r="4.6" fill="url(#ty)"/>
<circle cx="358.0" cy="516.0" r="4.6" fill="url(#tg)"/>
<circle cx="449.4" cy="368.4" r="4.7" fill="url(#tg)"/>
<circle cx="458.0" cy="368.4" r="4.1" fill="url(#tg)"/>
<circle cx="460.9" cy="372.2" r="4.5" fill="url(#ty)"/>
<circle cx="455.9" cy="372.3" r="3.8" fill="url(#tg)"/>
<circle cx="446.5" cy="376.0" r="4.0" fill="url(#tg)"/>
<circle cx="465.9" cy="380.9" r="4.8" fill="url(#tg)"/>
<circle cx="461.0" cy="381.4" r="4.5" fill="url(#ty)"/>
<circle cx="444.9" cy="382.2" r="5.0" fill="url(#tg)"/>
<circle cx="449.2" cy="382.2" r="4.6" fill="url(#tg)"/>
<circle cx="445.2" cy="385.3" r="4.4" fill="url(#ty)"/>
<circle cx="457.0" cy="388.3" r="4.3" fill="url(#tg)"/>
<circle cx="462.8" cy="389.6" r="4.4" fill="url(#ty)"/>
<circle cx="452.4" cy="393.0" r="4.7" fill="url(#ty)"/>
<circle cx="457.6" cy="393.4" r="5.1" fill="url(#tg)"/>
<circle cx="445.8" cy="400.9" r="4.5" fill="url(#ty)"/>
<circle cx="453.1" cy="403.2" r="4.9" fill="url(#tg)"/>
<circle cx="443.4" cy="410.0" r="3.8" fill="url(#tg)"/>
<circle cx="450.5" cy="410.1" r="3.7" fill="url(#tg)"/>
<circle cx="446.7" cy="413.5" r="3.7" fill="url(#ty)"/>
<circle cx="452.5" cy="416.4" r="4.8" fill="url(#ty)"/>
<circle cx="495.0" cy="374.0" r="5.5" fill="url(#tg)"/>
<circle cx="504.0" cy="376.7" r="5.5" fill="url(#tg)"/>
<circle cx="512.5" cy="378.0" r="5.5" fill="url(#tg)"/>
<circle cx="521.7" cy="380.0" r="5.5" fill="url(#tg)"/>
<circle cx="490.0" cy="381.7" r="5.5" fill="url(#ty)"/>
<circle cx="528.0" cy="385.0" r="6.0" fill="url(#tg)"/>
<circle cx="501.0" cy="385.0" r="5.5" fill="url(#ty)"/>
<circle cx="510.0" cy="387.5" r="5.5" fill="url(#tg)"/>
<circle cx="546.7" cy="388.0" r="5.5" fill="url(#tg)"/>
<circle cx="519.0" cy="389.0" r="5.5" fill="url(#ty)"/>
<circle cx="490.0" cy="390.0" r="5.0" fill="url(#ty)"/>
<circle cx="556.7" cy="390.0" r="5.0" fill="url(#ty)"/>
<circle cx="566.7" cy="391.7" r="5.0" fill="url(#ty)"/>
<circle cx="498.0" cy="393.0" r="5.5" fill="url(#tg)"/>
<circle cx="536.7" cy="393.0" r="5.0" fill="url(#tg)"/>
<circle cx="573.0" cy="393.0" r="5.0" fill="url(#tg)"/>
<circle cx="527.0" cy="397.2" r="5.4" fill="url(#tg)"/>
<circle cx="504.6" cy="397.6" r="6.0" fill="url(#tk)"/>
<circle cx="497.1" cy="397.7" r="5.3" fill="url(#ty)"/>
<circle cx="539.3" cy="403.3" r="6.1" fill="url(#ty)"/>
<circle cx="560.9" cy="403.7" r="5.5" fill="url(#tg)"/>
<circle cx="519.0" cy="403.7" r="4.8" fill="url(#tg)"/>
<circle cx="479.2" cy="404.0" r="4.8" fill="url(#ty)"/>
<circle cx="491.2" cy="404.6" r="5.2" fill="url(#tg)"/>
<circle cx="579.8" cy="405.3" r="4.8" fill="url(#ty)"/>
<circle cx="528.6" cy="405.6" r="6.4" fill="url(#ty)"/>
<circle cx="549.7" cy="406.0" r="5.2" fill="url(#tg)"/>
<circle cx="568.4" cy="406.1" r="5.2" fill="url(#tg)"/>
<circle cx="511.5" cy="406.3" r="5.0" fill="url(#tg)"/>
<circle cx="499.1" cy="406.3" r="5.2" fill="url(#tk)"/>
<circle cx="554.1" cy="411.8" r="6.6" fill="url(#tg)"/>
<circle cx="573.2" cy="412.0" r="5.1" fill="url(#tk)"/>
<circle cx="564.8" cy="412.2" r="5.3" fill="url(#tg)"/>
<circle cx="535.0" cy="412.6" r="4.6" fill="url(#tg)"/>
<circle cx="486.5" cy="412.9" r="5.6" fill="url(#tg)"/>
<circle cx="506.1" cy="414.2" r="5.0" fill="url(#tg)"/>
<circle cx="514.0" cy="414.4" r="4.7" fill="url(#tg)"/>
<circle cx="523.8" cy="414.4" r="4.8" fill="url(#tg)"/>
<circle cx="545.2" cy="414.7" r="4.7" fill="url(#tg)"/>
<circle cx="494.2" cy="414.7" r="5.3" fill="url(#tg)"/>
<circle cx="529.3" cy="420.0" r="5.8" fill="url(#tg)"/>
<circle cx="519.8" cy="420.0" r="6.2" fill="url(#ty)"/>
<circle cx="510.5" cy="420.6" r="6.1" fill="url(#ty)"/>
<circle cx="479.3" cy="420.7" r="5.4" fill="url(#tg)"/>
<circle cx="501.6" cy="421.0" r="6.6" fill="url(#tg)"/>
<circle cx="490.1" cy="421.0" r="6.1" fill="url(#ty)"/>
<circle cx="468.0" cy="338.0" r="2.8" fill="url(#tg)"/>
<circle cx="467.6" cy="343.4" r="2.3" fill="url(#tg)"/>
<circle cx="467.2" cy="348.9" r="2.7" fill="url(#ty)"/>
<circle cx="467.9" cy="354.2" r="2.7" fill="url(#tg)"/>
<circle cx="469.9" cy="359.2" r="2.3" fill="url(#tg)"/>
<circle cx="472.4" cy="364.0" r="2.6" fill="url(#tg)"/>
<circle cx="475.6" cy="368.5" r="2.5" fill="url(#tg)"/>
<circle cx="477.8" cy="373.2" r="2.5" fill="url(#tg)"/>
<circle cx="477.0" cy="378.6" r="2.7" fill="url(#tg)"/>
<circle cx="476.2" cy="384.0" r="2.7" fill="url(#tg)"/>
<circle cx="400.0" cy="303.0" r="1.9" fill="url(#tg)"/>
<circle cx="407.0" cy="303.0" r="2.1" fill="url(#ty)"/>
<circle cx="414.0" cy="303.0" r="1.8" fill="url(#tg)"/>
<circle cx="421.0" cy="303.0" r="2.0" fill="url(#tg)"/>
<circle cx="428.0" cy="303.0" r="2.0" fill="url(#ty)"/>
<circle cx="435.0" cy="303.0" r="2.0" fill="url(#tg)"/>
<circle cx="442.0" cy="303.0" r="2.1" fill="url(#tg)"/>
<circle cx="449.0" cy="303.0" r="1.7" fill="url(#tg)"/>
<circle cx="447.7" cy="77.6" r="6.0" fill="url(#tg)"/>
<circle cx="439.4" cy="85.5" r="5.5" fill="url(#tg)"/>
<circle cx="428.3" cy="88.2" r="5.7" fill="url(#tg)"/>
<circle cx="445.1" cy="94.4" r="7.3" fill="url(#tg)"/>
<circle cx="413.3" cy="94.4" r="7.3" fill="url(#tg)"/>
<circle cx="424.5" cy="96.0" r="5.9" fill="url(#ty)"/>
<circle cx="435.8" cy="96.8" r="7.0" fill="url(#tg)"/>
<circle cx="427.9" cy="104.6" r="5.2" fill="url(#tg)"/>
<circle cx="397.5" cy="105.0" r="6.0" fill="url(#ty)"/>
<circle cx="407.4" cy="105.2" r="5.6" fill="url(#tg)"/>
<circle cx="418.2" cy="105.6" r="7.1" fill="url(#tg)"/>
<circle cx="439.2" cy="107.6" r="6.0" fill="url(#ty)"/>
<circle cx="388.8" cy="114.1" r="6.8" fill="url(#tg)"/>
<circle cx="400.6" cy="114.1" r="5.2" fill="url(#tg)"/>
<circle cx="378.6" cy="114.3" r="7.2" fill="url(#tg)"/>
<circle cx="411.3" cy="114.7" r="6.8" fill="url(#ty)"/>
<circle cx="423.9" cy="117.3" r="5.9" fill="url(#tg)"/>
<circle cx="386.3" cy="124.0" r="7.3" fill="url(#ty)"/>
<circle cx="408.3" cy="124.3" r="5.7" fill="url(#ty)"/>
<circle cx="417.1" cy="124.4" r="5.8" fill="url(#tg)"/>
<circle cx="371.4" cy="124.6" r="5.1" fill="url(#ty)"/>
<circle cx="395.6" cy="126.0" r="7.2" fill="url(#ty)"/>
<circle cx="390.4" cy="133.2" r="7.2" fill="url(#tg)"/>
<circle cx="380.4" cy="135.1" r="5.6" fill="url(#tg)"/>
<circle cx="365.7" cy="136.1" r="7.3" fill="url(#tk)"/>
<circle cx="400.8" cy="136.9" r="6.0" fill="url(#tg)"/>
<circle cx="384.2" cy="145.2" r="6.1" fill="url(#tg)"/>
<circle cx="363.8" cy="145.8" r="7.2" fill="url(#tg)"/>
<circle cx="373.8" cy="146.0" r="6.9" fill="url(#ty)"/>
<circle cx="393.7" cy="146.1" r="7.0" fill="url(#ty)"/>
<circle cx="390.4" cy="152.7" r="6.5" fill="url(#tg)"/>
<circle cx="378.3" cy="153.6" r="5.8" fill="url(#tg)"/>
<circle cx="367.7" cy="155.0" r="6.9" fill="url(#tg)"/>
<circle cx="384.1" cy="163.5" r="5.6" fill="url(#ty)"/>
<circle cx="373.2" cy="165.1" r="5.7" fill="url(#tg)"/>
<circle cx="380.1" cy="173.1" r="5.2" fill="url(#tg)"/>
<circle cx="369.5" cy="173.4" r="5.8" fill="url(#tk)"/>
<circle cx="388.9" cy="175.2" r="7.1" fill="url(#tk)"/>
<circle cx="371.8" cy="182.1" r="5.7" fill="url(#tg)"/>
<circle cx="382.6" cy="183.5" r="5.3" fill="url(#tg)"/>
<circle cx="441.5" cy="108.0" r="6.0" fill="url(#tg)"/>
<circle cx="448.0" cy="115.0" r="5.0" fill="url(#tg)"/>
<circle cx="455.0" cy="121.0" r="6.5" fill="url(#tk)"/>
<circle cx="462.5" cy="128.0" r="6.0" fill="url(#tk)"/>
<circle cx="466.5" cy="135.0" r="7.0" fill="url(#ty)"/>
<circle cx="477.5" cy="140.0" r="6.0" fill="url(#tg)"/>
<circle cx="468.0" cy="146.5" r="5.5" fill="url(#tg)"/>
<circle cx="478.0" cy="153.0" r="6.5" fill="url(#tg)"/>
<circle cx="396.5" cy="190.0" r="6.0" fill="url(#tg)"/>
<circle cx="385.0" cy="195.0" r="6.0" fill="url(#tg)"/>
<circle cx="403.0" cy="196.5" r="6.0" fill="url(#tg)"/>
<circle cx="393.0" cy="205.0" r="6.0" fill="url(#ty)"/>
<circle cx="408.0" cy="207.5" r="7.0" fill="url(#ty)"/>
<circle cx="443.0" cy="215.0" r="6.0" fill="url(#tg)"/>
<circle cx="418.0" cy="216.5" r="6.0" fill="url(#tg)"/>
<circle cx="431.0" cy="216.5" r="6.0" fill="url(#tg)"/>
<circle cx="465.0" cy="220.0" r="5.5" fill="url(#tg)"/>
<circle cx="405.0" cy="221.5" r="6.0" fill="url(#tg)"/>
<circle cx="473.0" cy="225.0" r="5.0" fill="url(#tg)"/>
<circle cx="416.5" cy="228.0" r="6.0" fill="url(#tg)"/>
<circle cx="430.0" cy="228.0" r="6.0" fill="url(#tg)"/>
<circle cx="441.5" cy="228.0" r="6.0" fill="url(#tg)"/>
<circle cx="512.5" cy="26.0" r="7.0" fill="url(#tg)"/>
<circle cx="501.0" cy="32.5" r="5.5" fill="url(#ty)"/>
<circle cx="521.0" cy="34.0" r="6.5" fill="url(#tg)"/>
<circle cx="491.5" cy="39.0" r="5.5" fill="url(#tg)"/>
<circle cx="510.0" cy="40.0" r="6.0" fill="url(#ty)"/>
<circle cx="528.0" cy="42.5" r="6.5" fill="url(#tg)"/>
<circle cx="501.0" cy="45.0" r="4.5" fill="url(#tk)"/>
<circle cx="518.0" cy="46.5" r="4.5" fill="url(#tk)"/>
<circle cx="481.5" cy="48.0" r="6.5" fill="url(#tg)"/>
<circle cx="493.0" cy="50.0" r="5.0" fill="url(#tg)"/>
<circle cx="469.0" cy="55.0" r="5.5" fill="url(#tg)"/>
<circle cx="478.0" cy="58.0" r="5.0" fill="url(#tg)"/>
<circle cx="461.0" cy="64.0" r="7.0" fill="url(#tg)"/>
<circle cx="447.5" cy="74.0" r="6.5" fill="url(#tg)"/>
<circle cx="460.0" cy="76.0" r="5.0" fill="url(#tg)"/>
<circle cx="452.5" cy="83.0" r="5.0" fill="url(#tg)"/>
<circle cx="443.0" cy="87.5" r="7.0" fill="url(#tg)"/>
<circle cx="444.0" cy="98.0" r="5.0" fill="url(#tg)"/>
<circle cx="442.5" cy="109.0" r="5.5" fill="url(#tg)"/>
<circle cx="465.0" cy="221.0" r="6.5" fill="url(#tg)"/>
<circle cx="475.0" cy="226.5" r="6.5" fill="url(#tg)"/>
<circle cx="463.0" cy="233.0" r="6.5" fill="url(#tg)"/>
<circle cx="477.5" cy="238.0" r="8.0" fill="url(#ty)"/>
<circle cx="491.0" cy="241.0" r="7.0" fill="url(#ty)"/>
<circle cx="487.5" cy="241.5" r="6.0" fill="url(#ty)"/>
<circle cx="463.0" cy="246.0" r="6.0" fill="url(#tg)"/>
<circle cx="499.0" cy="247.5" r="5.5" fill="url(#ty)"/>
<circle cx="474.0" cy="251.0" r="6.5" fill="url(#ty)"/>
<circle cx="507.5" cy="253.0" r="5.5" fill="url(#ty)"/>
<circle cx="496.0" cy="255.0" r="5.5" fill="url(#ty)"/>
<circle cx="462.5" cy="259.0" r="6.5" fill="url(#tg)"/>
<circle cx="517.5" cy="259.0" r="6.0" fill="url(#tg)"/>
<circle cx="476.0" cy="262.5" r="6.5" fill="url(#tg)"/>
<circle cx="505.0" cy="263.0" r="6.5" fill="url(#tg)"/>
<circle cx="495.0" cy="265.0" r="5.5" fill="url(#ty)"/>
<circle cx="463.0" cy="269.0" r="5.0" fill="url(#ty)"/>
<circle cx="516.7" cy="271.7" r="6.0" fill="url(#tg)"/>
<circle cx="506.0" cy="273.0" r="5.5" fill="url(#ty)"/>
<circle cx="461.5" cy="281.5" r="5.0" fill="url(#ty)"/>
<circle cx="461.5" cy="294.0" r="5.0" fill="url(#ty)"/>
<circle cx="461.0" cy="305.0" r="4.5" fill="url(#tg)"/>
<circle cx="612.0" cy="139.0" r="3.5" fill="url(#tg)"/>
<circle cx="603.0" cy="144.0" r="5.0" fill="url(#tg)"/>
<circle cx="595.0" cy="150.0" r="5.0" fill="url(#tg)"/>
<circle cx="608.0" cy="150.0" r="5.0" fill="url(#tg)"/>
<circle cx="587.5" cy="156.0" r="5.0" fill="url(#tg)"/>
<circle cx="602.5" cy="156.0" r="5.5" fill="url(#tg)"/>
<circle cx="579.0" cy="160.0" r="6.0" fill="url(#tg)"/>
<circle cx="595.0" cy="162.5" r="5.5" fill="url(#tg)"/>
<circle cx="572.5" cy="167.5" r="6.0" fill="url(#tg)"/>
<circle cx="586.5" cy="169.0" r="6.0" fill="url(#tg)"/>
<circle cx="563.0" cy="176.0" r="7.0" fill="url(#ty)"/>
<circle cx="576.5" cy="176.0" r="6.5" fill="url(#ty)"/>
<circle cx="571.0" cy="185.0" r="6.0" fill="url(#tg)"/>
<circle cx="561.5" cy="190.0" r="5.0" fill="url(#tg)"/>
<circle cx="336.0" cy="226.5" r="5.0" fill="url(#tg)"/>
<circle cx="350.0" cy="304.0" r="2.5" fill="url(#tg)"/>
<circle cx="376.0" cy="304.0" r="3.0" fill="url(#ty)"/>
<circle cx="381.0" cy="304.0" r="3.0" fill="url(#ty)"/>
<circle cx="403.0" cy="304.0" r="2.8" fill="url(#tg)"/>
<circle cx="413.0" cy="304.0" r="2.8" fill="url(#tg)"/>
<circle cx="342.5" cy="304.5" r="2.5" fill="url(#tg)"/>
<circle cx="334.0" cy="305.0" r="2.5" fill="url(#tg)"/>
<circle cx="424.0" cy="305.0" r="2.8" fill="url(#ty)"/>
<circle cx="434.0" cy="306.0" r="2.8" fill="url(#ty)"/>
<circle cx="445.0" cy="306.0" r="2.8" fill="url(#tg)"/>
<circle cx="517.5" cy="272.5" r="6.0" fill="url(#tg)"/>
<circle cx="506.0" cy="275.0" r="5.0" fill="url(#ty)"/>
<circle cx="510.0" cy="284.0" r="6.0" fill="url(#tg)"/>
<circle cx="521.0" cy="285.0" r="6.0" fill="url(#tg)"/>
<circle cx="511.0" cy="295.0" r="6.0" fill="url(#tg)"/>
<circle cx="533.0" cy="296.0" r="6.0" fill="url(#tg)"/>
<circle cx="544.0" cy="299.0" r="6.0" fill="url(#tg)"/>
<circle cx="556.0" cy="301.0" r="6.0" fill="url(#tg)"/>
<circle cx="576.0" cy="301.7" r="5.0" fill="url(#tg)"/>
<circle cx="566.7" cy="302.5" r="6.0" fill="url(#tg)"/>
<circle cx="585.0" cy="304.0" r="5.5" fill="url(#tg)"/>
<circle cx="508.0" cy="304.0" r="5.0" fill="url(#tg)"/>
<circle cx="546.7" cy="307.5" r="6.0" fill="url(#tg)"/>
<circle cx="558.0" cy="309.0" r="6.0" fill="url(#tg)"/>
<circle cx="572.5" cy="309.0" r="5.0" fill="url(#tg)"/>
<circle cx="581.7" cy="311.0" r="5.0" fill="url(#tg)"/>
<circle cx="590.0" cy="314.0" r="5.0" fill="url(#tg)"/>
<circle cx="544.0" cy="316.7" r="5.0" fill="url(#ty)"/>
<circle cx="551.7" cy="316.7" r="5.0" fill="url(#ty)"/>
<circle cx="560.0" cy="319.0" r="5.0" fill="url(#ty)"/>
<circle cx="594.0" cy="321.0" r="4.5" fill="url(#tg)"/>
<circle cx="598.0" cy="327.5" r="4.5" fill="url(#tg)"/>
<circle cx="602.5" cy="333.0" r="5.0" fill="url(#ty)"/>
<circle cx="610.0" cy="337.5" r="5.0" fill="url(#ty)"/>
<circle cx="616.7" cy="341.7" r="4.5" fill="url(#tg)"/>
<circle cx="604.0" cy="342.5" r="4.5" fill="url(#tg)"/>
<circle cx="623.0" cy="345.0" r="4.5" fill="url(#tg)"/>
<circle cx="630.0" cy="346.7" r="5.0" fill="url(#tg)"/>
<circle cx="639.0" cy="346.7" r="5.0" fill="url(#tg)"/>
<circle cx="624.0" cy="352.5" r="5.0" fill="url(#tg)"/>
<circle cx="633.0" cy="353.0" r="5.5" fill="url(#tg)"/>
<circle cx="627.5" cy="360.0" r="4.5" fill="url(#tg)"/>
<circle cx="518.0" cy="335.0" r="2.8" fill="url(#tg)"/>
<circle cx="532.5" cy="341.7" r="2.8" fill="url(#tg)"/>
<circle cx="548.0" cy="349.0" r="2.8" fill="url(#tg)"/>
<circle cx="603.0" cy="350.0" r="2.6" fill="url(#ty)"/>
<circle cx="563.0" cy="356.0" r="2.8" fill="url(#tg)"/>
<circle cx="578.0" cy="363.0" r="2.8" fill="url(#ty)"/>
<circle cx="591.0" cy="370.0" r="2.8" fill="url(#ty)"/>
<circle cx="602.5" cy="376.7" r="2.8" fill="url(#tg)"/>
<circle cx="603.0" cy="388.0" r="2.8" fill="url(#tg)"/>
<circle cx="703.0" cy="318.0" r="5.5" fill="url(#tg)"/>
<circle cx="712.5" cy="323.0" r="5.5" fill="url(#tg)"/>
<circle cx="695.0" cy="325.0" r="5.5" fill="url(#tg)"/>
<circle cx="722.5" cy="326.7" r="4.0" fill="url(#ty)"/>
<circle cx="600.0" cy="327.5" r="4.5" fill="url(#tg)"/>
<circle cx="686.7" cy="329.0" r="5.5" fill="url(#tg)"/>
<circle cx="744.0" cy="329.0" r="4.5" fill="url(#ty)"/>
<circle cx="679.0" cy="333.0" r="5.0" fill="url(#ty)"/>
<circle cx="602.5" cy="334.0" r="5.0" fill="url(#ty)"/>
<circle cx="742.5" cy="336.0" r="5.5" fill="url(#tg)"/>
<circle cx="609.0" cy="338.0" r="5.0" fill="url(#ty)"/>
<circle cx="689.0" cy="339.0" r="5.5" fill="url(#tg)"/>
<circle cx="671.7" cy="339.0" r="5.5" fill="url(#tg)"/>
<circle cx="748.0" cy="340.0" r="5.0" fill="url(#tg)"/>
<circle cx="735.0" cy="340.0" r="4.5" fill="url(#ty)"/>
<circle cx="680.0" cy="341.7" r="5.5" fill="url(#tg)"/>
<circle cx="616.0" cy="341.7" r="5.0" fill="url(#tg)"/>
<circle cx="603.0" cy="341.7" r="5.0" fill="url(#tg)"/>
<circle cx="662.5" cy="343.0" r="5.0" fill="url(#tg)"/>
<circle cx="741.7" cy="344.0" r="5.0" fill="url(#tg)"/>
<circle cx="623.0" cy="345.0" r="5.0" fill="url(#tg)"/>
<circle cx="652.5" cy="346.0" r="5.0" fill="url(#tg)"/>
<circle cx="670.0" cy="346.7" r="4.5" fill="url(#ty)"/>
<circle cx="629.0" cy="346.7" r="5.0" fill="url(#tg)"/>
<circle cx="752.5" cy="346.7" r="5.5" fill="url(#tg)"/>
<circle cx="642.5" cy="347.5" r="5.5" fill="url(#tg)"/>
<circle cx="663.0" cy="350.0" r="4.5" fill="url(#ty)"/>
<circle cx="746.7" cy="350.0" r="5.0" fill="url(#tg)"/>
<circle cx="656.0" cy="351.7" r="4.5" fill="url(#ty)"/>
<circle cx="647.5" cy="352.5" r="5.0" fill="url(#tg)"/>
<circle cx="624.0" cy="352.5" r="5.5" fill="url(#tg)"/>
<circle cx="633.0" cy="353.0" r="6.0" fill="url(#tg)"/>
<circle cx="755.0" cy="353.0" r="5.0" fill="url(#ty)"/>
<circle cx="750.0" cy="357.5" r="5.0" fill="url(#tg)"/>
<circle cx="628.0" cy="360.0" r="4.5" fill="url(#tg)"/>
<circle cx="756.7" cy="361.0" r="5.0" fill="url(#tg)"/>
<circle cx="759.0" cy="367.5" r="4.0" fill="url(#tg)"/>
<circle cx="764.0" cy="375.0" r="3.0" fill="url(#tg)"/>
<circle cx="768.0" cy="384.0" r="3.0" fill="url(#ty)"/>
<circle cx="772.0" cy="394.0" r="3.0" fill="url(#tg)"/>
<circle cx="778.0" cy="404.0" r="3.4" fill="url(#ty)"/>
<circle cx="783.0" cy="418.0" r="3.0" fill="url(#tg)"/>
<circle cx="786.0" cy="432.0" r="2.8" fill="url(#ty)"/>
<circle cx="790.0" cy="446.0" r="2.8" fill="url(#tg)"/>
<circle cx="795.0" cy="462.0" r="2.8" fill="url(#ty)"/>
<circle cx="798.0" cy="474.0" r="2.8" fill="url(#ty)"/>
<circle cx="606.7" cy="436.0" r="4.0" fill="url(#ty)"/>
<circle cx="602.5" cy="453.0" r="5.0" fill="url(#ty)"/>
<circle cx="611.0" cy="457.5" r="5.0" fill="url(#ty)"/>
<circle cx="603.0" cy="465.0" r="5.0" fill="url(#tg)"/>
<circle cx="612.5" cy="466.0" r="5.0" fill="url(#tg)"/>
<circle cx="566.7" cy="451.7" r="3.2" fill="url(#ty)"/>
<circle cx="601.0" cy="453.0" r="6.0" fill="url(#ty)"/>
<circle cx="553.0" cy="453.0" r="3.5" fill="url(#ty)"/>
<circle cx="560.0" cy="453.0" r="3.8" fill="url(#tg)"/>
<circle cx="545.0" cy="454.0" r="3.5" fill="url(#tg)"/>
<circle cx="538.0" cy="454.0" r="3.0" fill="url(#ty)"/>
<circle cx="611.0" cy="457.5" r="6.0" fill="url(#ty)"/>
<circle cx="593.0" cy="460.0" r="6.0" fill="url(#tg)"/>
<circle cx="613.0" cy="466.0" r="5.5" fill="url(#tg)"/>
<circle cx="603.0" cy="466.7" r="5.5" fill="url(#tg)"/>
<circle cx="592.5" cy="468.0" r="5.5" fill="url(#tg)"/>
<circle cx="582.5" cy="475.0" r="5.5" fill="url(#tg)"/>
<circle cx="577.5" cy="482.5" r="5.5" fill="url(#tg)"/>
<circle cx="582.5" cy="489.0" r="5.0" fill="url(#tg)"/>
<circle cx="573.0" cy="491.0" r="5.0" fill="url(#tg)"/>
<circle cx="570.0" cy="499.0" r="3.5" fill="url(#ty)"/>
<circle cx="568.0" cy="504.0" r="3.5" fill="url(#ty)"/>
<circle cx="606.5" cy="584.4" r="5.4" fill="url(#tg)"/>
<circle cx="601.3" cy="590.6" r="6.4" fill="url(#tk)"/>
<circle cx="609.5" cy="590.8" r="5.4" fill="url(#tg)"/>
<circle cx="581.5" cy="591.0" r="6.1" fill="url(#tg)"/>
<circle cx="590.5" cy="591.3" r="4.7" fill="url(#tk)"/>
<circle cx="619.3" cy="593.4" r="5.5" fill="url(#ty)"/>
<circle cx="617.6" cy="599.0" r="5.5" fill="url(#ty)"/>
<circle cx="595.3" cy="599.6" r="5.6" fill="url(#tg)"/>
<circle cx="575.3" cy="600.0" r="4.7" fill="url(#tg)"/>
<circle cx="606.7" cy="601.3" r="5.9" fill="url(#tk)"/>
<circle cx="584.7" cy="602.7" r="4.8" fill="url(#ty)"/>
<circle cx="609.0" cy="608.2" r="5.4" fill="url(#tg)"/>
<circle cx="598.5" cy="608.7" r="4.9" fill="url(#tg)"/>
<circle cx="591.6" cy="611.2" r="5.7" fill="url(#tk)"/>
<circle cx="607.3" cy="616.7" r="4.9" fill="url(#tg)"/>
<circle cx="586.6" cy="618.1" r="6.3" fill="url(#tk)"/>
<circle cx="616.0" cy="618.8" r="5.0" fill="url(#tg)"/>
<circle cx="594.3" cy="619.4" r="6.6" fill="url(#tk)"/>
<circle cx="611.1" cy="625.9" r="5.6" fill="url(#tg)"/>
<circle cx="588.8" cy="626.0" r="6.5" fill="url(#tg)"/>
<circle cx="618.7" cy="626.5" r="6.5" fill="url(#ty)"/>
<circle cx="578.9" cy="626.6" r="6.3" fill="url(#tg)"/>
<circle cx="599.4" cy="627.6" r="6.2" fill="url(#tg)"/>
<circle cx="603.7" cy="634.4" r="5.5" fill="url(#ty)"/>
<circle cx="584.4" cy="634.8" r="6.3" fill="url(#tg)"/>
<circle cx="596.5" cy="636.2" r="5.1" fill="url(#tg)"/>
<circle cx="615.2" cy="636.2" r="5.7" fill="url(#tg)"/>
<circle cx="600.0" cy="643.9" r="4.9" fill="url(#tg)"/>
<circle cx="503.0" cy="558.0" r="2.8" fill="url(#ty)"/>
<circle cx="516.7" cy="559.7" r="2.8" fill="url(#tg)"/>
<circle cx="532.5" cy="560.0" r="2.8" fill="url(#tg)"/>
<circle cx="545.0" cy="561.0" r="2.8" fill="url(#tg)"/>
<circle cx="563.0" cy="561.0" r="2.8" fill="url(#ty)"/>
<circle cx="572.5" cy="561.0" r="2.8" fill="url(#tg)"/>
<circle cx="582.5" cy="561.0" r="2.8" fill="url(#ty)"/>
<circle cx="594.7" cy="561.0" r="2.8" fill="url(#tg)"/>
<circle cx="653.0" cy="568.0" r="3.5" fill="url(#tg)"/>
<circle cx="642.5" cy="569.0" r="3.5" fill="url(#tg)"/>
<circle cx="539.0" cy="571.0" r="3.5" fill="url(#tg)"/>
<circle cx="551.0" cy="571.0" r="3.5" fill="url(#ty)"/>
<circle cx="563.0" cy="571.0" r="3.5" fill="url(#ty)"/>
<circle cx="605.0" cy="571.0" r="3.5" fill="url(#tg)"/>
<circle cx="575.0" cy="571.7" r="3.5" fill="url(#tg)"/>
<circle cx="590.0" cy="571.7" r="3.5" fill="url(#ty)"/>
<circle cx="633.0" cy="571.7" r="3.5" fill="url(#ty)"/>
<circle cx="507.5" cy="624.0" r="5.0" fill="url(#tg)"/>
<circle cx="516.0" cy="626.7" r="4.5" fill="url(#tg)"/>
<circle cx="531.0" cy="627.5" r="5.5" fill="url(#tk)"/>
<circle cx="541.7" cy="631.0" r="5.0" fill="url(#tg)"/>
<circle cx="553.0" cy="635.0" r="3.0" fill="url(#tg)"/>
<circle cx="568.0" cy="636.0" r="3.0" fill="url(#ty)"/>
<circle cx="502.5" cy="636.7" r="3.0" fill="url(#ty)"/>
<circle cx="557.5" cy="636.7" r="3.0" fill="url(#tg)"/>
<circle cx="563.0" cy="637.0" r="3.0" fill="url(#ty)"/>
<circle cx="512.5" cy="639.0" r="3.0" fill="url(#ty)"/>
<circle cx="521.0" cy="642.0" r="3.0" fill="url(#tg)"/>
<circle cx="530.0" cy="644.0" r="3.0" fill="url(#ty)"/>
<circle cx="540.0" cy="644.0" r="3.0" fill="url(#ty)"/>
<circle cx="631.0" cy="644.0" r="3.0" fill="url(#tg)"/>
<circle cx="561.0" cy="648.0" r="3.0" fill="url(#tg)"/>
<circle cx="566.0" cy="649.0" r="3.0" fill="url(#tg)"/>
<circle cx="576.0" cy="649.0" r="3.0" fill="url(#tg)"/>
<circle cx="636.7" cy="649.0" r="3.0" fill="url(#tg)"/>
<circle cx="588.0" cy="651.7" r="3.0" fill="url(#ty)"/>
<circle cx="647.5" cy="651.7" r="3.0" fill="url(#tg)"/>
<circle cx="621.0" cy="652.5" r="5.0" fill="url(#ty)"/>
<circle cx="600.0" cy="654.0" r="3.0" fill="url(#tg)"/>
<circle cx="606.7" cy="655.0" r="3.0" fill="url(#ty)"/>
<circle cx="658.0" cy="655.0" r="3.0" fill="url(#ty)"/>
<circle cx="624.0" cy="657.0" r="4.0" fill="url(#tg)"/>
<circle cx="631.0" cy="644.7" r="3.0" fill="url(#tg)"/>
<circle cx="636.7" cy="650.0" r="3.0" fill="url(#tg)"/>
<circle cx="648.7" cy="652.0" r="3.0" fill="url(#tg)"/>
<circle cx="659.0" cy="655.8" r="3.0" fill="url(#ty)"/>
<circle cx="667.0" cy="662.0" r="3.0" fill="url(#ty)"/>
<circle cx="674.0" cy="667.5" r="3.0" fill="url(#tg)"/>
<circle cx="682.5" cy="668.0" r="3.0" fill="url(#ty)"/>
<circle cx="688.0" cy="672.5" r="3.0" fill="url(#tg)"/>
<circle cx="421.7" cy="543.0" r="3.0" fill="url(#tg)"/>
<circle cx="432.5" cy="546.0" r="3.0" fill="url(#ty)"/>
<circle cx="441.7" cy="547.5" r="3.0" fill="url(#tg)"/>
<circle cx="451.0" cy="549.0" r="3.0" fill="url(#ty)"/>
<circle cx="396.0" cy="550.0" r="2.8" fill="url(#tg)"/>
<circle cx="406.0" cy="551.7" r="2.8" fill="url(#ty)"/>
<circle cx="461.0" cy="551.7" r="3.0" fill="url(#tg)"/>
<circle cx="471.0" cy="552.5" r="3.0" fill="url(#ty)"/>
<circle cx="417.5" cy="555.0" r="3.0" fill="url(#tg)"/>
<circle cx="481.0" cy="555.0" r="3.0" fill="url(#tg)"/>
<circle cx="490.0" cy="556.7" r="3.0" fill="url(#ty)"/>
<circle cx="495.0" cy="557.5" r="3.0" fill="url(#tg)"/>
<circle cx="475.0" cy="567.5" r="5.0" fill="url(#tg)"/>
<circle cx="485.0" cy="570.0" r="5.0" fill="url(#tg)"/>
<circle cx="471.0" cy="577.5" r="5.0" fill="url(#ty)"/>
<circle cx="480.0" cy="577.5" r="5.0" fill="url(#ty)"/>
<circle cx="469.0" cy="586.0" r="5.0" fill="url(#ty)"/>
<circle cx="479.0" cy="586.0" r="5.0" fill="url(#tg)"/>
<circle cx="470.0" cy="594.0" r="5.0" fill="url(#tg)"/>
<circle cx="481.7" cy="596.0" r="5.5" fill="url(#tk)"/>
<circle cx="468.0" cy="603.0" r="5.0" fill="url(#ty)"/>
<circle cx="478.0" cy="605.0" r="5.0" fill="url(#ty)"/>
<circle cx="488.0" cy="606.0" r="5.0" fill="url(#tg)"/>
<circle cx="484.0" cy="614.0" r="4.5" fill="url(#tg)"/>
<circle cx="453.0" cy="616.7" r="4.0" fill="url(#tg)"/>
<circle cx="462.5" cy="616.7" r="4.5" fill="url(#tg)"/>
<circle cx="471.7" cy="618.0" r="4.5" fill="url(#ty)"/>
<circle cx="480.0" cy="620.0" r="4.5" fill="url(#ty)"/>
<circle cx="488.0" cy="621.7" r="4.5" fill="url(#tg)"/>
<circle cx="496.7" cy="622.5" r="5.0" fill="url(#tk)"/>
<circle cx="334.6" cy="556.2" r="4.8" fill="url(#tg)"/>
<circle cx="328.7" cy="557.3" r="5.6" fill="url(#tg)"/>
<circle cx="340.1" cy="561.8" r="5.7" fill="url(#tg)"/>
<circle cx="331.9" cy="562.0" r="4.4" fill="url(#tk)"/>
<circle cx="336.1" cy="571.6" r="4.7" fill="url(#tk)"/>
<circle cx="340.7" cy="578.4" r="6.0" fill="url(#tk)"/>
<circle cx="336.9" cy="582.7" r="4.6" fill="url(#tg)"/>
<circle cx="345.2" cy="583.4" r="4.5" fill="url(#tk)"/>
<circle cx="339.3" cy="591.5" r="5.9" fill="url(#tg)"/>
<circle cx="342.7" cy="598.4" r="5.2" fill="url(#tg)"/>
<circle cx="338.6" cy="606.4" r="5.9" fill="url(#tg)"/>
<circle cx="343.4" cy="611.5" r="5.5" fill="url(#tg)"/>
<circle cx="346.9" cy="620.8" r="4.7" fill="url(#tg)"/>
<circle cx="351.0" cy="625.0" r="5.7" fill="url(#tg)"/>
<circle cx="342.9" cy="625.5" r="4.6" fill="url(#tk)"/>
<circle cx="349.4" cy="633.9" r="4.8" fill="url(#tg)"/>
<circle cx="351.5" cy="642.0" r="4.6" fill="url(#tg)"/>
<circle cx="349.5" cy="647.6" r="5.9" fill="url(#tg)"/>
<circle cx="356.0" cy="648.9" r="4.6" fill="url(#tg)"/>
<circle cx="353.0" cy="655.8" r="4.9" fill="url(#tk)"/>
<circle cx="356.0" cy="660.2" r="4.5" fill="url(#tk)"/>
<circle cx="352.8" cy="668.6" r="4.4" fill="url(#tk)"/>
<circle cx="359.8" cy="669.2" r="5.6" fill="url(#tg)"/>
<circle cx="355.3" cy="676.7" r="5.2" fill="url(#tg)"/>
<circle cx="360.1" cy="683.5" r="4.8" fill="url(#tg)"/>
<circle cx="364.3" cy="689.2" r="5.0" fill="url(#tk)"/>
<circle cx="357.4" cy="690.9" r="6.2" fill="url(#tk)"/>
<circle cx="369.8" cy="697.9" r="4.5" fill="url(#tg)"/>
<circle cx="359.0" cy="698.0" r="6.0" fill="url(#tg)"/>
<circle cx="365.0" cy="705.3" r="5.7" fill="url(#tg)"/>
<circle cx="369.0" cy="712.1" r="6.2" fill="url(#tg)"/>
<circle cx="372.6" cy="719.0" r="5.8" fill="url(#tg)"/>
<circle cx="375.1" cy="724.5" r="4.6" fill="url(#tg)"/>
<circle cx="369.7" cy="725.3" r="5.9" fill="url(#tg)"/>
<circle cx="381.2" cy="731.8" r="4.7" fill="url(#tg)"/>
<circle cx="373.4" cy="733.5" r="6.0" fill="url(#tg)"/>
<circle cx="384.4" cy="737.9" r="5.4" fill="url(#tg)"/>
<circle cx="378.2" cy="739.1" r="4.7" fill="url(#ty)"/>
<circle cx="381.4" cy="744.9" r="5.7" fill="url(#tg)"/>
<circle cx="389.2" cy="746.9" r="4.5" fill="url(#tg)"/>
<circle cx="393.2" cy="753.1" r="5.5" fill="url(#tg)"/>
<circle cx="384.3" cy="753.8" r="4.8" fill="url(#tg)"/>
<circle cx="397.8" cy="759.7" r="5.5" fill="url(#ty)"/>
<circle cx="389.1" cy="761.6" r="5.9" fill="url(#tg)"/>
<circle cx="394.2" cy="766.5" r="4.7" fill="url(#tg)"/>
<circle cx="401.2" cy="768.0" r="5.7" fill="url(#tg)"/>
<circle cx="411.9" cy="773.0" r="5.7" fill="url(#tg)"/>
<circle cx="404.6" cy="774.5" r="5.9" fill="url(#tg)"/>
<circle cx="396.4" cy="774.7" r="5.9" fill="url(#tk)"/>
<circle cx="408.2" cy="780.0" r="5.3" fill="url(#tg)"/>
<circle cx="416.1" cy="780.5" r="6.0" fill="url(#tg)"/>
<circle cx="401.9" cy="783.0" r="6.0" fill="url(#tg)"/>
<circle cx="420.2" cy="787.1" r="4.7" fill="url(#ty)"/>
<circle cx="414.6" cy="790.1" r="5.0" fill="url(#tg)"/>
<circle cx="417.0" cy="794.5" r="5.0" fill="url(#tg)"/>
<circle cx="492.2" cy="700.8" r="4.3" fill="url(#tg)"/>
<circle cx="503.4" cy="701.3" r="5.3" fill="url(#tg)"/>
<circle cx="506.8" cy="705.9" r="5.4" fill="url(#tk)"/>
<circle cx="523.0" cy="706.2" r="4.7" fill="url(#tg)"/>
<circle cx="517.0" cy="706.6" r="5.5" fill="url(#tg)"/>
<circle cx="490.7" cy="707.6" r="4.7" fill="url(#tk)"/>
<circle cx="497.9" cy="707.7" r="5.4" fill="url(#tg)"/>
<circle cx="478.8" cy="708.9" r="4.4" fill="url(#tg)"/>
<circle cx="483.1" cy="713.8" r="4.8" fill="url(#tk)"/>
<circle cx="520.5" cy="713.8" r="5.4" fill="url(#tk)"/>
<circle cx="494.2" cy="714.2" r="5.4" fill="url(#ty)"/>
<circle cx="511.3" cy="715.3" r="4.1" fill="url(#tg)"/>
<circle cx="500.6" cy="715.6" r="5.7" fill="url(#tk)"/>
<circle cx="505.9" cy="721.5" r="4.4" fill="url(#tg)"/>
<circle cx="487.5" cy="721.5" r="5.1" fill="url(#tg)"/>
<circle cx="515.0" cy="721.6" r="4.9" fill="url(#tg)"/>
<circle cx="497.9" cy="722.8" r="4.8" fill="url(#tg)"/>
<circle cx="481.7" cy="723.6" r="4.0" fill="url(#tg)"/>
<circle cx="619.8" cy="690.4" r="3.0" fill="url(#tg)"/>
<circle cx="633.5" cy="693.9" r="3.0" fill="url(#ty)"/>
<circle cx="643.8" cy="697.3" r="3.0" fill="url(#ty)"/>
<circle cx="655.3" cy="700.7" r="3.0" fill="url(#tg)"/>
<circle cx="665.6" cy="708.7" r="3.0" fill="url(#ty)"/>
<circle cx="671.3" cy="716.8" r="3.0" fill="url(#tg)"/>
<circle cx="667.4" cy="728.2" r="3.0" fill="url(#tg)"/>
<circle cx="662.6" cy="743.1" r="3.0" fill="url(#tg)"/>
<circle cx="658.3" cy="758.0" r="3.0" fill="url(#tg)"/>
<circle cx="654.2" cy="770.6" r="3.0" fill="url(#ty)"/>
<circle cx="649.6" cy="784.4" r="3.0" fill="url(#ty)"/>
<circle cx="641.6" cy="792.4" r="3.0" fill="url(#ty)"/>
<circle cx="631.2" cy="794.0" r="3.0" fill="url(#tg)"/>
<circle cx="636.8" cy="667.5" r="4.0" fill="url(#ty)"/>
<circle cx="629.7" cy="668.0" r="4.1" fill="url(#tg)"/>
<circle cx="643.6" cy="668.4" r="4.1" fill="url(#ty)"/>
<circle cx="632.0" cy="672.4" r="4.3" fill="url(#tg)"/>
<circle cx="647.7" cy="672.5" r="4.2" fill="url(#tg)"/>
<circle cx="638.9" cy="673.0" r="4.1" fill="url(#tg)"/>
<circle cx="652.6" cy="673.8" r="3.7" fill="url(#ty)"/>
<circle cx="633.9" cy="678.2" r="3.8" fill="url(#tg)"/>
<circle cx="628.1" cy="678.3" r="4.1" fill="url(#ty)"/>
<circle cx="648.9" cy="678.6" r="3.8" fill="url(#tg)"/>
<circle cx="641.7" cy="679.2" r="3.6" fill="url(#tg)"/>
<circle cx="655.4" cy="679.7" r="4.0" fill="url(#tg)"/>
<circle cx="652.6" cy="684.9" r="3.6" fill="url(#tg)"/>
<circle cx="646.5" cy="685.7" r="3.6" fill="url(#tg)"/>
<circle cx="659.5" cy="685.9" r="4.1" fill="url(#ty)"/>
<circle cx="638.7" cy="686.0" r="3.7" fill="url(#tg)"/>
<circle cx="667.3" cy="686.2" r="3.3" fill="url(#tg)"/>
<circle cx="655.6" cy="690.6" r="3.2" fill="url(#tg)"/>
<circle cx="669.7" cy="691.7" r="3.8" fill="url(#tg)"/>
<circle cx="665.4" cy="691.9" r="4.3" fill="url(#tg)"/>
<circle cx="668.1" cy="699.7" r="4.2" fill="url(#ty)"/>
<circle cx="604.0" cy="652.0" r="2.8" fill="url(#tg)"/>
<circle cx="612.0" cy="660.0" r="2.8" fill="url(#ty)"/>
<circle cx="611.0" cy="672.0" r="2.8" fill="url(#tg)"/>
<circle cx="605.0" cy="690.0" r="2.8" fill="url(#tg)"/>
<circle cx="567.0" cy="697.0" r="2.8" fill="url(#tg)"/>
<circle cx="575.0" cy="699.0" r="2.8" fill="url(#ty)"/>
<circle cx="585.0" cy="701.0" r="2.8" fill="url(#tg)"/>
<circle cx="597.0" cy="703.0" r="2.8" fill="url(#ty)"/>
<circle cx="153.0" cy="397.5" r="7.5" fill="url(#tg)"/>
<circle cx="167.5" cy="397.5" r="7.0" fill="url(#ty)"/>
<circle cx="168.0" cy="410.0" r="7.5" fill="url(#ty)"/>
<circle cx="153.0" cy="412.5" r="7.5" fill="url(#tg)"/>
<circle cx="167.0" cy="420.0" r="5.5" fill="url(#ty)"/>
<circle cx="180.7" cy="420.0" r="6.5" fill="url(#tg)"/>
<circle cx="153.7" cy="427.5" r="7.5" fill="url(#tg)"/>
<circle cx="168.0" cy="432.5" r="7.5" fill="url(#ty)"/>
<circle cx="183.0" cy="435.0" r="7.5" fill="url(#ty)"/>
<circle cx="604.5" cy="388.0" r="2.5" fill="url(#tg)"/>
<circle cx="566.5" cy="390.0" r="5.5" fill="url(#ty)"/>
<circle cx="574.6" cy="393.0" r="5.5" fill="url(#ty)"/>
<circle cx="565.8" cy="399.0" r="5.5" fill="url(#ty)"/>
<circle cx="603.7" cy="399.7" r="2.5" fill="url(#ty)"/>
<circle cx="574.6" cy="400.4" r="5.5" fill="url(#ty)"/>
<circle cx="603.0" cy="410.6" r="2.5" fill="url(#tg)"/>
<circle cx="600.0" cy="421.5" r="2.5" fill="url(#ty)"/>
<circle cx="611.8" cy="428.8" r="3.0" fill="url(#ty)"/>
<circle cx="595.0" cy="435.4" r="2.5" fill="url(#ty)"/>
<circle cx="608.8" cy="436.0" r="4.0" fill="url(#tg)"/>
<!-- bldgs.py -->
<polygon points="298,332.5 318,332.5 318,342 298,342" fill="#fbe6d4" />
<polygon points="302,321.6 318.5,321.6 318.5,330.6 302,330.6" fill="#7aaed6" />
<polygon points="301,320 317.5,320 317.5,329 301,329" fill="#a9d4ef" />
<polygon points="325,322.6 338.5,322.6 338.5,329.6 325,329.6" fill="#7aaed6" />
<polygon points="324,321 337.5,321 337.5,328 324,328" fill="#a9d4ef" />
<polygon points="284,332.6 297,332.6 297,342.6 284,342.6" fill="#7aaed6" />
<polygon points="283,331 296,331 296,341 283,341" fill="#a9d4ef" />
<polygon points="277.5,344.6 297,344.6 297,356.1 277.5,356.1" fill="#7aaed6" />
<polygon points="276.5,343 296,343 296,354.5 276.5,354.5" fill="#a9d4ef" />
<polygon points="312.5,339.6 322,339.6 322,350.6 312.5,350.6" fill="#7aaed6" />
<polygon points="311.5,338 321,338 321,349 311.5,349" fill="#a9d4ef" />
<polygon points="322.5,339.6 337.5,339.6 337.5,349.6 322.5,349.6" fill="#7aaed6" />
<polygon points="321.5,338 336.5,338 336.5,348 321.5,348" fill="#a9d4ef" />
<polygon points="300,350.6 309,350.6 309,356.6 300,356.6" fill="#7aaed6" />
<polygon points="299,349 308,349 308,355 299,355" fill="#a9d4ef" />
<polygon points="267,356.1 274.5,356.1 274.5,359.6 267,359.6" fill="#7aaed6" />
<polygon points="266,354.5 273.5,354.5 273.5,358 266,358" fill="#a9d4ef" />
<polygon points="278.5,360.6 288.5,360.6 288.5,372.6 278.5,372.6" fill="#7aaed6" />
<polygon points="277.5,359 287.5,359 287.5,371 277.5,371" fill="#a9d4ef" />
<polygon points="271,377.1 297.5,377.1 297.5,385.1 271,385.1" fill="#7aaed6" />
<polygon points="270,375.5 296.5,375.5 296.5,383.5 270,383.5" fill="#a9d4ef" />
<polygon points="309,361.6 341,361.6 341,384.6 309,384.6" fill="#7aaed6" />
<polygon points="308,360 340,360 340,383 308,383" fill="#a9d4ef" />
<polygon points="351,332.6 364,332.6 364,345.6 351,345.6" fill="#7aaed6" />
<polygon points="350,331 363,331 363,344 350,344" fill="#a9d4ef" />
<polygon points="348.5,349.1 367,349.1 367,359.6 348.5,359.6" fill="#7aaed6" />
<polygon points="347.5,347.5 366,347.5 366,358 347.5,358" fill="#a9d4ef" />
<polygon points="351,359.6 364,359.6 364,399.6 351,399.6" fill="#7aaed6" />
<polygon points="350,358 363,358 363,398 350,398" fill="#a9d4ef" />
<polygon points="374,322.6 391,322.6 391,330.6 374,330.6" fill="#7aaed6" />
<polygon points="373,321 390,321 390,329 373,329" fill="#a9d4ef" />
<polygon points="374,333.1 380,333.1 380,344.1 374,344.1" fill="#7aaed6" />
<polygon points="373,331.5 379,331.5 379,342.5 373,342.5" fill="#a9d4ef" />
<polygon points="385,331.6 391,331.6 391,344.6 385,344.6" fill="#7aaed6" />
<polygon points="384,330 390,330 390,343 384,343" fill="#a9d4ef" />
<polygon points="378.5,349.1 391,349.1 391,356.6 378.5,356.6" fill="#7aaed6" />
<polygon points="377.5,347.5 390,347.5 390,355 377.5,355" fill="#a9d4ef" />
<polygon points="385,359.6 391,359.6 391,373.6 385,373.6" fill="#7aaed6" />
<polygon points="384,358 390,358 390,372 384,372" fill="#a9d4ef" />
<polygon points="374,379.6 391,379.6 391,384.6 374,384.6" fill="#7aaed6" />
<polygon points="373,378 390,378 390,383 373,383" fill="#a9d4ef" />
<polygon points="249,380.6 257.5,380.6 257.5,390.6 249,390.6" fill="#7aaed6" />
<polygon points="248,379 256.5,379 256.5,389 248,389" fill="#a9d4ef" />
<polygon points="247.5,390.6 258.5,390.6 258.5,400.6 247.5,400.6" fill="#7aaed6" />
<polygon points="246.5,389 257.5,389 257.5,399 246.5,399" fill="#a9d4ef" />
<polygon points="260.5,390.6 279,390.6 279,400.6 260.5,400.6" fill="#7aaed6" />
<polygon points="259.5,389 278,389 278,399 259.5,399" fill="#a9d4ef" />
<polygon points="282.5,386.6 288.5,386.6 288.5,399.6 282.5,399.6" fill="#7aaed6" />
<polygon points="281.5,385 287.5,385 287.5,398 281.5,398" fill="#a9d4ef" />
<polygon points="314,392.6 334,392.6 334,401.6 314,401.6" fill="#7aaed6" />
<polygon points="313,391 333,391 333,400 313,400" fill="#a9d4ef" />
<polygon points="320,401.6 324,401.6 324,407.6 320,407.6" fill="#7aaed6" />
<polygon points="319,400 323,400 323,406 319,406" fill="#a9d4ef" />
<polygon points="262,407.6 277.5,407.6 277.5,422.6 262,422.6" fill="#7aaed6" />
<polygon points="261,406 276.5,406 276.5,421 261,421" fill="#a9d4ef" />
<polygon points="279.5,407.6 300,407.6 300,422.6 279.5,422.6" fill="#7aaed6" />
<polygon points="278.5,406 299,406 299,421 278.5,421" fill="#a9d4ef" />
<polygon points="302,407.6 322,407.6 322,422.6 302,422.6" fill="#7aaed6" />
<polygon points="301,406 321,406 321,421 301,421" fill="#a9d4ef" />
<polygon points="340,405.6 349,405.6 349,425.6 340,425.6" fill="#7aaed6" />
<polygon points="339,404 348,404 348,424 339,424" fill="#a9d4ef" />
<polygon points="365,409.6 377.5,409.6 377.5,419.6 365,419.6" fill="#7aaed6" />
<polygon points="364,408 376.5,408 376.5,418 364,418" fill="#a9d4ef" />
<polygon points="322,409.6 340,409.6 340,411.6 322,411.6" fill="#7aaed6" />
<polygon points="321,408 339,408 339,410 321,410" fill="#a9d4ef" />
<polygon points="247,345.1 257.5,345.1 257.5,360.6 247,360.6" fill="#d793ab" />
<polygon points="246,343.5 256.5,343.5 256.5,359 246,359" fill="#f9d3df" />
<polygon points="247,360.6 261,360.6 261,372.6 247,372.6" fill="#d793ab" />
<polygon points="246,359 260,359 260,371 246,371" fill="#f9d3df" />
<polygon points="244,415.6 258.5,415.6 258.5,425.6 244,425.6" fill="#a9b7c4" />
<polygon points="243,414 257.5,414 257.5,424 243,424" fill="#ffffff" />
<polygon points="309,413.7 329,411 329,417" fill="#e60012" />
<polygon points="419,321.1 439,321.1 439,331.6 419,331.6" fill="#d793ab" />
<polygon points="418,319.5 438,319.5 438,330 418,330" fill="#f9d3df" />
<polygon points="429.5,333.1 439,333.1 439,347.6 429.5,347.6" fill="#d793ab" />
<polygon points="428.5,331.5 438,331.5 438,346 428.5,346" fill="#f9d3df" />
<polygon points="414,337.6 427,337.6 427,347.6 414,347.6" fill="#d793ab" />
<polygon points="413,336 426,336 426,346 413,346" fill="#f9d3df" />
<polygon points="446,325.1 457,325.1 457,335.6 446,335.6" fill="#d793ab" />
<polygon points="445,323.5 456,323.5 456,334 445,334" fill="#f9d3df" />
<polygon points="467,324.1 483.5,324.1 483.5,331.6 467,331.6" fill="#d793ab" />
<polygon points="466,322.5 482.5,322.5 482.5,330 466,330" fill="#f9d3df" />
<polygon points="487,326.6 507,326.6 507,337.6 487,337.6" fill="#d793ab" />
<polygon points="486,325 506,325 506,336 486,336" fill="#f9d3df" />
<polygon points="487,337.6 493.5,337.6 493.5,342.6 487,342.6" fill="#d793ab" />
<polygon points="486,336 492.5,336 492.5,341 486,341" fill="#f9d3df" />
<polygon points="447,337.6 455,337.6 455,359.6 447,359.6" fill="#7aaed6" />
<polygon points="446,336 454,336 454,358 446,358" fill="#a9d4ef" />
<polygon points="450,359.1 468,359.1 468,367.6 450,367.6" fill="#7aaed6" />
<polygon points="449,357.5 467,357.5 467,366 449,366" fill="#a9d4ef" />
<polygon points="392,322.6 407,322.6 407,331.6 392,331.6" fill="#7aaed6" />
<polygon points="391,321 406,321 406,330 391,330" fill="#a9d4ef" />
<polygon points="391,348.1 407,348.1 407,356.6 391,356.6" fill="#7aaed6" />
<polygon points="390,346.5 406,346.5 406,355 390,355" fill="#a9d4ef" />
<polygon points="391,359.6 397.5,359.6 397.5,373.6 391,373.6" fill="#7aaed6" />
<polygon points="390,358 396.5,358 396.5,372 390,372" fill="#a9d4ef" />
<polygon points="412,352.6 419,352.6 419,368.1 412,368.1" fill="#7aaed6" />
<polygon points="411,351 418,351 418,366.5 411,366.5" fill="#a9d4ef" />
<polygon points="421,357.6 429.5,357.6 429.5,391.6 421,391.6" fill="#7aaed6" />
<polygon points="420,356 428.5,356 428.5,390 420,390" fill="#a9d4ef" />
<polygon points="410.5,379.6 421,379.6 421,389.1 410.5,389.1" fill="#7aaed6" />
<polygon points="409.5,378 420,378 420,387.5 409.5,387.5" fill="#a9d4ef" />
<polygon points="433.5,367.6 446,367.6 446,391.6 433.5,391.6" fill="#7aaed6" />
<polygon points="432.5,366 445,366 445,390 432.5,390" fill="#a9d4ef" />
<polygon points="391,391.6 405,391.6 405,399.6 391,399.6" fill="#7aaed6" />
<polygon points="390,390 404,390 404,398 390,398" fill="#a9d4ef" />
<polygon points="406,409.6 429,409.6 429,421.6 406,421.6" fill="#7aaed6" />
<polygon points="405,408 428,408 428,420 405,420" fill="#a9d4ef" />
<polygon points="415,405.6 429,405.6 429,411.6 415,411.6" fill="#7aaed6" />
<polygon points="414,404 428,404 428,410 414,410" fill="#a9d4ef" />
<polygon points="434.5,406.1 450,406.1 450,421.6 434.5,421.6" fill="#7aaed6" />
<polygon points="433.5,404.5 449,404.5 449,420 433.5,420" fill="#a9d4ef" />
<polygon points="428,412.6 435,412.6 435,415.6 428,415.6" fill="#7aaed6" />
<polygon points="427,411 434,411 434,414 427,414" fill="#a9d4ef" />
<polygon points="426,425.6 441,425.6 441,439.6 426,439.6" fill="#7aaed6" />
<polygon points="425,424 440,424 440,438 425,438" fill="#a9d4ef" />
<polygon points="423.5,439.6 445,439.6 445,445.6 423.5,445.6" fill="#7aaed6" />
<polygon points="422.5,438 444,438 444,444 422.5,444" fill="#a9d4ef" />
<polygon points="394,434.6 407.5,434.6 407.5,440.6 394,440.6" fill="#7aaed6" />
<polygon points="393,433 406.5,433 406.5,439 393,439" fill="#a9d4ef" />
<polygon points="397,429.6 404,429.6 404,444.6 397,444.6" fill="#7aaed6" />
<polygon points="396,428 403,428 403,443 396,443" fill="#a9d4ef" />
<polygon points="479,434.1 494,434.1 494,438.1 479,438.1" fill="#7aaed6" />
<polygon points="478,432.5 493,432.5 493,436.5 478,436.5" fill="#a9d4ef" />
<polygon points="470,441.6 477.5,441.6 477.5,450.6 470,450.6" fill="#7aaed6" />
<polygon points="469,440 476.5,440 476.5,449 469,449" fill="#a9d4ef" />
<polygon points="478.5,441.6 498.5,441.6 498.5,451.6 478.5,451.6" fill="#7aaed6" />
<polygon points="477.5,440 497.5,440 497.5,450 477.5,450" fill="#a9d4ef" />
<polygon points="456.5,461.6 478.5,461.6 478.5,473.1 456.5,473.1" fill="#7aaed6" />
<polygon points="455.5,460 477.5,460 477.5,471.5 455.5,471.5" fill="#a9d4ef" />
<polygon points="426.596,392.902 432.94,395.86 430.404,401.298 424.06,398.34" fill="#7aaed6" />
<polygon points="425.596,391.302 431.94,394.26 429.404,399.698 423.06,396.74" fill="#a9d4ef" />
<polygon points="393,411.6 404,411.6 404,416.6 393,416.6" fill="#a9b7c4" />
<polygon points="392,410 403,410 403,415 392,415" fill="#ffffff" />
<polygon points="475,427 541,420 541.5,426 475.5,433" fill="#7aaed6" />
<polygon points="475,426 541,419 541.5,425 475.5,432" fill="#a9d4ef" />
<polygon points="505.214,437.595 527.13,435.677 528.786,454.605 506.87,456.523" fill="#7aaed6" />
<polygon points="504.214,435.995 526.13,434.077 527.786,453.005 505.87,454.923" fill="#a9d4ef" />
<polygon points="528.991,436.223 542.44,435.046 544.009,452.977 530.56,454.154" fill="#7aaed6" />
<polygon points="527.991,434.623 541.44,433.446 543.009,451.377 529.56,452.554" fill="#a9d4ef" />
<polygon points="316,439.6 331,439.6 331,446.6 316,446.6" fill="#7aaed6" />
<polygon points="315,438 330,438 330,445 315,445" fill="#a9d4ef" />
<polygon points="327,432.6 331,432.6 331,438.1 327,438.1" fill="#7aaed6" />
<polygon points="326,431 330,431 330,436.5 326,436.5" fill="#a9d4ef" />
<polygon points="337,428.1 382,428.1 382,443.1 337,443.1" fill="#7aaed6" />
<polygon points="336,426.5 381,426.5 381,441.5 336,441.5" fill="#a9d4ef" />
<polygon points="333.5,446.6 382,446.6 382,464.1 333.5,464.1" fill="#7aaed6" />
<polygon points="332.5,445 381,445 381,462.5 332.5,462.5" fill="#a9d4ef" />
<polygon points="387.5,438.1 391,438.1 391,444.1 387.5,444.1" fill="#7aaed6" />
<polygon points="386.5,436.5 390,436.5 390,442.5 386.5,442.5" fill="#a9d4ef" />
<polygon points="387.5,448.1 391,448.1 391,471.6 387.5,471.6" fill="#7aaed6" />
<polygon points="386.5,446.5 390,446.5 390,470 386.5,470" fill="#a9d4ef" />
<polygon points="332.5,469.1 337.5,469.1 337.5,471.6 332.5,471.6" fill="#7aaed6" />
<polygon points="331.5,467.5 336.5,467.5 336.5,470 331.5,470" fill="#a9d4ef" />
<polygon points="364,468.6 371,468.6 371,471.1 364,471.1" fill="#7aaed6" />
<polygon points="363,467 370,467 370,469.5 363,469.5" fill="#a9d4ef" />
<polygon points="335,489.1 340,489.1 340,493.1 335,493.1" fill="#7aaed6" />
<polygon points="334,487.5 339,487.5 339,491.5 334,491.5" fill="#a9d4ef" />
<polygon points="319,453.1 322,453.1 322,464.6 319,464.6" fill="#7aaed6" />
<polygon points="318,451.5 321,451.5 321,463 318,463" fill="#a9d4ef" />
<polygon points="326,453.1 329,453.1 329,464.6 326,464.6" fill="#7aaed6" />
<polygon points="325,451.5 328,451.5 328,463 325,463" fill="#a9d4ef" />
<polygon points="319,457.6 329,457.6 329,460.6 319,460.6" fill="#7aaed6" />
<polygon points="318,456 328,456 328,459 318,459" fill="#a9d4ef" />
<polygon points="344,477.6 353,477.6 364,488.6 364,498.1 356,498.1 353,493.6 348,493.6 344,487.6" fill="#7aaed6" />
<polygon points="343,476 352,476 363,487 363,496.5 355,496.5 352,492 347,492 343,486" fill="#a9d4ef" />
<polygon points="376,478.1 388.5,478.1 388.5,495.6 367.5,495.6 367.5,486.6 376,486.6" fill="#7aaed6" />
<polygon points="375,476.5 387.5,476.5 387.5,494 366.5,494 366.5,485 375,485" fill="#a9d4ef" />
<polygon points="245,440.6 256,440.6 256,446.6 245,446.6" fill="#a9b7c4" />
<polygon points="244,439 255,439 255,445 244,445" fill="#ffffff" />
<polygon points="366.5,508 376.5,508 376.5,528 366.5,528" fill="#c6dcb0" stroke="#b1cc9c" stroke-width="0.6" />
<polygon points="391,448.1 413.5,448.1 413.5,471.6 404,471.6 404,457.6 398,457.6 398,471.6 391,471.6" fill="#7aaed6" />
<polygon points="390,446.5 412.5,446.5 412.5,470 403,470 403,456 397,456 397,470 390,470" fill="#a9d4ef" />
<polygon points="422.5,489.6 431,486.6 441,485.6 444,484.6 450,484.6 450,489.6 444,489.6 444,494.6 439,497.6 436,502.6 422.5,502.6" fill="#c98e16" />
<polygon points="421.5,488 430,485 440,484 443,483 449,483 449,488 443,488 443,493 438,496 435,501 421.5,501" fill="#f3b733" />
<polygon points="491,466.6 527.7,469.1 527.7,472.6 537,472.6 537,477.6 560,479.1 558.5,502.6 547.7,501.6 547,509.6 530,509.1 529,504.6 499,503.1 499,499.6 489,499.1" fill="#d793ab" />
<polygon points="490,465 526.7,467.5 526.7,471 536,471 536,476 559,477.5 557.5,501 546.7,500 546,508 529,507.5 528,503 498,501.5 498,498 488,497.5" fill="#f9d3df" />
<polygon points="461,506.6 499.5,510.6 499,519.6 460.5,515.6" fill="#d793ab" />
<polygon points="460,505 498.5,509 498,518 459.5,514" fill="#f9d3df" />
<polygon points="422.5,512.6 439,512.6 439,526.6 486,531.6 486,544.1 422.5,539.1" fill="#d793ab" />
<polygon points="421.5,511 438,511 438,525 485,530 485,542.5 421.5,537.5" fill="#f9d3df" />
<polygon points="445,518.6 450,518.6 450,523.6 445,523.6" fill="#a9b7c4" />
<polygon points="444,517 449,517 449,522 444,522" fill="#ffffff" />
<polygon points="452,519.6 462,519.6 462,525.6 452,525.6" fill="#a9b7c4" />
<polygon points="451,518 461,518 461,524 451,524" fill="#ffffff" />
<polygon points="526.5,511.5 546.5,511.5 546.5,520 526.5,520" fill="#fbe6d4" />
<polygon points="198.5,297.1 214,297.1 214,295.6 220,295.6 220,297.1 236,297.1 236,303.6 220,303.6 220,305.1 214,305.1 214,303.6 198.5,303.6" fill="#9d95c2" />
<polygon points="197.5,295.5 213,295.5 213,294 219,294 219,295.5 235,295.5 235,302 219,302 219,303.5 213,303.5 213,302 197.5,302" fill="#c6bfde" />
<polygon points="202.5,269.6 212,269.6 212,287.6 202.5,287.6" fill="#a9b7c4" />
<polygon points="201.5,268 211,268 211,286 201.5,286" fill="#ffffff" />
<polygon points="192.5,274 197,271.5 199.5,283 196,284.5" fill="#cfe4f3" />
<polygon points="219.5,274.1 226,274.1 226,278.1 231.5,278.1 231.5,286.6 219.5,286.6" fill="#a9b7c4" />
<polygon points="218.5,272.5 225,272.5 225,276.5 230.5,276.5 230.5,285 218.5,285" fill="#ffffff" />
<polygon points="228,248.1 232,245.6 234.5,249.1 230.5,252.1" fill="#a9b7c4" />
<polygon points="227,246.5 231,244 233.5,247.5 229.5,250.5" fill="#ffffff" />
<polygon points="189,295.6 194.5,295.6 194.5,305.1 189,305.1" fill="#a9b7c4" />
<polygon points="188,294 193.5,294 193.5,303.5 188,303.5" fill="#ffffff" />
<polygon points="174.3,311.6 194.3,311.6 194.3,319.1 174.3,319.1" fill="#a9b7c4" />
<polygon points="173.3,310 193.3,310 193.3,317.5 173.3,317.5" fill="#ffffff" />
<polygon points="277.5,268.1 287.5,262.6 292,273.1 282.5,278.1" fill="#a9b7c4" />
<polygon points="276.5,266.5 286.5,261 291,271.5 281.5,276.5" fill="#ffffff" />
<polygon points="319,245.1 327.5,245.1 327.5,259.6 324.5,259.6 324.5,249.1 319,249.1" fill="#a9b7c4" />
<polygon points="318,243.5 326.5,243.5 326.5,258 323.5,258 323.5,247.5 318,247.5" fill="#ffffff" />
<polygon points="317.5,266.6 326,266.6 326,276.6 317.5,276.6" fill="#a9b7c4" />
<polygon points="316.5,265 325,265 325,275 316.5,275" fill="#ffffff" />
<polygon points="296,298.1 313.5,296.6 312.5,303.1 305,303.6 305,305.6 297.5,306.6" fill="#a9b7c4" />
<polygon points="295,296.5 312.5,295 311.5,301.5 304,302 304,304 296.5,305" fill="#ffffff" />
<polygon points="322.5,294 341,294 341,303.5 322.5,303.5" fill="#fbe6d4" stroke="#f0cdb2" stroke-width="0.5" />
<polygon points="430,153.1 445,138.1 457,150.6 442,165.6" fill="#7aaed6" />
<polygon points="429,151.5 444,136.5 456,149 441,164" fill="#a9d4ef" />
<polygon points="454,166.6 466,155.6 475,165.6 464.5,179.1" fill="#7aaed6" />
<polygon points="453,165 465,154 474,164 463.5,177.5" fill="#a9d4ef" />
<polygon points="412.5,174.1 425,163.1 437,172.6 423.5,186.6" fill="#7aaed6" />
<polygon points="411.5,172.5 424,161.5 436,171 422.5,185" fill="#a9d4ef" />
<polygon points="404,168.1 410,162.6 414.5,166.6 409.5,173.1" fill="#7aaed6" />
<polygon points="403,166.5 409,161 413.5,165 408.5,171.5" fill="#a9d4ef" />
<polygon points="432,187.6 441,178.1 447,184.1 438.5,194.1" fill="#7aaed6" />
<polygon points="431,186 440,176.5 446,182.5 437.5,192.5" fill="#a9d4ef" />
<polygon points="427,194.1 432,190.1 437.5,195.6 449.5,188.1 454.5,193.1 442,207.6 436,201.6 434.5,202.6" fill="#7aaed6" />
<polygon points="426,192.5 431,188.5 436.5,194 448.5,186.5 453.5,191.5 441,206 435,200 433.5,201" fill="#a9d4ef" />
<polygon points="417.5,200.1 422.5,195.1 432.5,204.1 427,210.1" fill="#7aaed6" />
<polygon points="416.5,198.5 421.5,193.5 431.5,202.5 426,208.5" fill="#a9d4ef" />
<polygon points="467.5,201.6 482.5,188.1 484,191.6 489,199.6 477.5,213.1" fill="#a9b7c4" />
<polygon points="466.5,200 481.5,186.5 483,190 488,198 476.5,211.5" fill="#ffffff" />
<polygon points="474,94.1 494,78.1 493.5,75.6 513.5,61.6 526,78.1 524,79.6 527.5,83.1 533.5,77.6 543.5,91.6 532,99.6 527,94.6 517,102.6 513.5,99.1 489,116.6" fill="#d793ab" />
<polygon points="473,92.5 493,76.5 492.5,74 512.5,60 525,76.5 523,78 526.5,81.5 532.5,76 542.5,90 531,98 526,93 516,101 512.5,97.5 488,115" fill="#f9d3df" />
<polygon points="532,61.6 543.5,54.6 551,65.6 540,73.6" fill="#d793ab" />
<polygon points="531,60 542.5,53 550,64 539,72" fill="#f9d3df" />
<polygon points="547.5,82.6 557.5,76.6 562,81.6 551,88.1" fill="#d793ab" />
<polygon points="546.5,81 556.5,75 561,80 550,86.5" fill="#f9d3df" />
<polygon points="543,82.6 546,80.6 550,89.1 547.5,90.6" fill="#d793ab" />
<polygon points="542,81 545,79 549,87.5 546.5,89" fill="#f9d3df" />
<polygon points="543.5,96.6 557.5,89.1 572.5,111.6 567,115.6 562.5,111.6 557.5,114.6 551,106.6" fill="#d793ab" />
<polygon points="542.5,95 556.5,87.5 571.5,110 566,114 561.5,110 556.5,113 550,105" fill="#f9d3df" />
<polygon points="532.5,98.1 541,95.6 555,115.6 547.5,122.6" fill="#d793ab" />
<polygon points="531.5,96.5 540,94 554,114 546.5,121" fill="#f9d3df" />
<polygon points="522,112.6 532.5,104.6 547.5,124.6 537,131.6" fill="#d793ab" />
<polygon points="521,111 531.5,103 546.5,123 536,130" fill="#f9d3df" />
<polygon points="511,120.6 518.5,116.6 522,121.6 514,126.6" fill="#d793ab" />
<polygon points="510,119 517.5,115 521,120 513,125" fill="#f9d3df" />
<polygon points="519,131.6 527.5,125.6 532.5,132.6 523.5,138.1" fill="#d793ab" />
<polygon points="518,130 526.5,124 531.5,131 522.5,136.5" fill="#f9d3df" />
<polygon points="495,134.6 507.5,126.6 515,136.6 510,140.6 512.5,146.6 510,147.6 507.5,143.1 503.5,144.6 499,140.6" fill="#d793ab" />
<polygon points="494,133 506.5,125 514,135 509,139 511.5,145 509,146 506.5,141.5 502.5,143 498,139" fill="#f9d3df" />
<polygon points="346.3,201.9 378.5,201.9 378.5,216.3 346.3,216.3" fill="#9d95c2" />
<polygon points="345.3,200.3 377.5,200.3 377.5,214.7 345.3,214.7" fill="#c6bfde" />
<polygon points="383,205.6 387.3,205.6 387.3,211.9 383,211.9" fill="#9d95c2" />
<polygon points="382,204 386.3,204 386.3,210.3 382,210.3" fill="#c6bfde" />
<polygon points="347.3,221.6 380,221.6 380,232.4 347.3,232.4" fill="#9d95c2" />
<polygon points="346.3,220 379,220 379,230.8 346.3,230.8" fill="#c6bfde" />
<polygon points="376.8,220.6 389.3,220.6 389.3,251.6 376.8,251.6" fill="#9d95c2" />
<polygon points="375.8,219 388.3,219 388.3,250 375.8,250" fill="#c6bfde" />
<polygon points="345,242.4 350.7,242.4 350.7,251.9 345,251.9" fill="#9d95c2" />
<polygon points="344,240.8 349.7,240.8 349.7,250.3 344,250.3" fill="#c6bfde" />
<polygon points="355,241.6 374.3,241.6 374.3,253.3 355,253.3" fill="#9d95c2" />
<polygon points="354,240 373.3,240 373.3,251.7 354,251.7" fill="#c6bfde" />
<polygon points="390,242.4 400,242.4 400,254.1 390,254.1" fill="#9d95c2" />
<polygon points="389,240.8 399,240.8 399,252.5 389,252.5" fill="#c6bfde" />
<polygon points="409.3,239.1 412.7,239.1 412.7,252.4 409.3,252.4" fill="#9d95c2" />
<polygon points="408.3,237.5 411.7,237.5 411.7,250.8 408.3,250.8" fill="#c6bfde" />
<polygon points="414,240.1 417,240.1 417,251.6 414,251.6" fill="#9d95c2" />
<polygon points="413,238.5 416,238.5 416,250 413,250" fill="#c6bfde" />
<polygon points="342.3,259.6 418.5,259.6 418.5,269.9 342.3,269.9" fill="#9d95c2" />
<polygon points="341.3,258 417.5,258 417.5,268.3 341.3,268.3" fill="#c6bfde" />
<polygon points="371.8,276.6 406.3,276.6 406.3,288.6 371.8,288.6" fill="#9d95c2" />
<polygon points="370.8,275 405.3,275 405.3,287 370.8,287" fill="#c6bfde" />
<polygon points="389.3,251.6 391.3,251.6 391.3,276.6 389.3,276.6" fill="#9d95c2" />
<polygon points="388.3,250 390.3,250 390.3,275 388.3,275" fill="#c6bfde" />
<polygon points="392.7,288.6 395.2,288.6 395.2,297.4 392.7,297.4" fill="#9d95c2" />
<polygon points="391.7,287 394.2,287 394.2,295.8 391.7,295.8" fill="#c6bfde" />
<polygon points="422.3,240.3 441,240.3 441,247.4 422.3,247.4" fill="#9d95c2" />
<polygon points="421.3,238.7 440,238.7 440,245.8 421.3,245.8" fill="#c6bfde" />
<polygon points="433.5,246.6 447.7,246.6 447.7,251.9 433.5,251.9" fill="#9d95c2" />
<polygon points="432.5,245 446.7,245 446.7,250.3 432.5,250.3" fill="#c6bfde" />
<polygon points="423.5,249.1 431.8,249.1 431.8,256.6 423.5,256.6" fill="#9d95c2" />
<polygon points="422.5,247.5 430.8,247.5 430.8,255 422.5,255" fill="#c6bfde" />
<polygon points="433.5,254.1 441,254.1 441,264.1 433.5,264.1" fill="#9d95c2" />
<polygon points="432.5,252.5 440,252.5 440,262.5 432.5,262.5" fill="#c6bfde" />
<polygon points="422.7,256.6 433.5,256.6 433.5,271.6 422.7,271.6" fill="#9d95c2" />
<polygon points="421.7,255 432.5,255 432.5,270 421.7,270" fill="#c6bfde" />
<polygon points="418.5,261.6 423.5,261.6 423.5,267.4 418.5,267.4" fill="#9d95c2" />
<polygon points="417.5,260 422.5,260 422.5,265.8 417.5,265.8" fill="#c6bfde" />
<polygon points="431,265.6 438.5,265.6 438.5,271.6 431,271.6" fill="#9d95c2" />
<polygon points="430,264 437.5,264 437.5,270 430,270" fill="#c6bfde" />
<polygon points="415.7,279.6 428.2,279.6 428.2,288.6 415.7,288.6" fill="#7aaed6" />
<polygon points="414.7,278 427.2,278 427.2,287 414.7,287" fill="#a9d4ef" />
<polygon points="415.7,292.4 428.2,292.4 428.2,304.1 415.7,304.1" fill="#7aaed6" />
<polygon points="414.7,290.8 427.2,290.8 427.2,302.5 414.7,302.5" fill="#a9d4ef" />
<polygon points="344,279.6 367.3,279.6 367.3,290.3 344,290.3" fill="#a9b7c4" />
<polygon points="343,278 366.3,278 366.3,288.7 343,288.7" fill="#ffffff" />
<polygon points="330,293.7 343,293.7 343,303.3 330,303.3" fill="#fbe6d4" stroke="#f0cdb2" stroke-width="0.5" />
<polygon points="467.545,279.581 476.024,280.174 474.455,302.619 465.976,302.026" fill="#d793ab" />
<polygon points="466.545,277.981 475.024,278.574 473.455,301.019 464.976,300.426" fill="#f9d3df" />
<polygon points="490.7,179.1 496.8,172.4 506,181.6 508.5,179.1 519.3,189.9 512.7,198.3 507.7,194.9 506,197.4 501.8,192.4 504.3,188.3 500,187.4" fill="#9d95c2" />
<polygon points="489.7,177.5 495.8,170.8 505,180 507.5,177.5 518.3,188.3 511.7,196.7 506.7,193.3 505,195.8 500.8,190.8 503.3,186.7 499,185.8" fill="#c6bfde" />
<polygon points="483.5,217.4 495,206.6 510,224.9 509,229.6 502.7,236.6 497.7,232.6" fill="#a9b7c4" />
<polygon points="482.5,215.8 494,205 509,223.3 508,228 501.7,235 496.7,231" fill="#ffffff" />
<polygon points="522.7,181.6 531,174.9 542.7,187.4 536,194.6" fill="#a9b7c4" />
<polygon points="521.7,180 530,173.3 541.7,185.8 535,193" fill="#ffffff" />
<polygon points="533,171.6 536,169.1 553,187.6 550,190.1" fill="#a9b7c4" />
<polygon points="532,170 535,167.5 552,186 549,188.5" fill="#ffffff" />
<polygon points="481.759,277.244 494.633,279.053 493.241,288.956 480.367,287.147" fill="#d793ab" />
<polygon points="480.759,275.644 493.633,277.453 492.241,287.356 479.367,285.547" fill="#f9d3df" />
<polygon points="492,289.1 501,289.1 501,300.6 492,300.6" fill="#d793ab" />
<polygon points="491,287.5 500,287.5 500,299 491,299" fill="#f9d3df" />
<polygon points="481,290.6 491,290.6 491,303.3 481,303.3" fill="#d793ab" />
<polygon points="480,289 490,289 490,301.7 480,301.7" fill="#f9d3df" />
<polygon points="512,309.1 523.5,313.3 521,319.6 511,314.6" fill="#9d95c2" />
<polygon points="511,307.5 522.5,311.7 520,318 510,313" fill="#c6bfde" />
<polygon points="523.5,316.6 536,321.6 539,325.6 537,331.6 522,324.6" fill="#9d95c2" />
<polygon points="522.5,315 535,320 538,324 536,330 521,323" fill="#c6bfde" />
<polygon points="573.5,328.3 595,339.1 587.7,354.6 565,344.1" fill="#d793ab" />
<polygon points="572.5,326.7 594,337.5 586.7,353 564,342.5" fill="#f9d3df" />
<polygon points="575,322.6 587,327.6 584,332.6 573.5,327.6" fill="#d793ab" />
<polygon points="574,321 586,326 583,331 572.5,326" fill="#f9d3df" />
<polygon points="606.7,360 615,356 626,370 617.5,375" fill="#fbe6d4" stroke="#f0cdb2" stroke-width="0.5" />
<polygon points="608.5,352.6 612,350.6 614,354.6 611,357.6" fill="#a9b7c4" />
<polygon points="607.5,351 611,349 613,353 610,356" fill="#ffffff" />
<polygon points="623.5,380.6 631,379.1 632,383.3 624,385.3" fill="#a9b7c4" />
<polygon points="622.5,379 630,377.5 631,381.7 623,383.7" fill="#ffffff" />
<polygon points="643,363 661.7,361.7 664,376 646,380" fill="#fff" stroke="#9fb0bf" stroke-width="0.8" />
<polygon points="677.5,359 698,351 700,355 680,365" fill="#fff" stroke="#9fb0bf" stroke-width="0.8" />
<polygon points="698,347.5 716.7,336 720,340 701.7,353" fill="#fff" stroke="#9fb0bf" stroke-width="0.8" />
<polygon points="689,367.5 733,354 734,358 691,371.7" fill="#fff" stroke="#9fb0bf" stroke-width="0.8" />
<polygon points="680,384 694,381.7 711.7,415 692,421" fill="#fff" stroke="#9fb0bf" stroke-width="0.8" />
<polygon points="634,400 670,395 675,419 641,426" fill="#fff" stroke="#9fb0bf" stroke-width="0.8" />
<polygon points="614,535 639,529 641.7,541.7 616.7,553" fill="#fff" stroke="#9fb0bf" stroke-width="0.8" />
<polygon points="626,469.1 635,463.3 640,464.6 641,457.6 654,454.1 662,476.6 631,485.6" fill="#d3a97e" />
<polygon points="625,467.5 634,461.7 639,463 640,456 653,452.5 661,475 630,484" fill="#fbd9b6" />
<polygon points="674,474.1 694,469.1 695,471.6 675,476.6" fill="#d3a97e" />
<polygon points="673,472.5 693,467.5 694,470 674,475" fill="#fbd9b6" />
<polygon points="625,494.1 652.7,487.6 658.5,508.3 636,514.1 637,523.3 630,524.6" fill="#d3a97e" />
<polygon points="624,492.5 651.7,486 657.5,506.7 635,512.5 636,521.7 629,523" fill="#fbd9b6" />
<polygon points="662,486.6 697.7,477.6 704,499.6 667.7,509.6" fill="#d3a97e" />
<polygon points="661,485 696.7,476 703,498 666.7,508" fill="#fbd9b6" />
<polygon points="644,529.6 662.7,524.6 667,539.6 647.7,545.6" fill="#d3a97e" />
<polygon points="643,528 661.7,523 666,538 646.7,544" fill="#fbd9b6" />
<polygon points="663.5,518.3 706,508.3 710,529.6 676,538.3 668.5,541.6" fill="#d3a97e" />
<polygon points="662.5,516.7 705,506.7 709,528 675,536.7 667.5,540" fill="#fbd9b6" />
<polygon points="710,434.1 721,430.6 726,444.1 716,446.6" fill="#d3a97e" />
<polygon points="709,432.5 720,429 725,442.5 715,445" fill="#fbd9b6" />
<polygon points="702.5,459.6 717,446.6 723,444.6 721,426.6 747,418.6 777,503.6 721,522.6 711,489.6" fill="#d3a97e" />
<polygon points="701.5,458 716,445 722,443 720,425 746,417 776,502 720,521 710,488" fill="#fbd9b6" />
<polygon points="680,496 696.7,491 698,496 681.7,501" fill="#fff" />
<polygon points="734,426 741.7,424 744,436 736.7,437.5" fill="#fff" />
<polygon points="733,485 747.5,481 751,493 736.7,497.5" fill="#fff" />
<polygon points="725,475 733,472.5 735,476.7 726,479" fill="#fff" />
<polygon points="578.5,499.1 598.5,502.6 597,513.3 577.7,509.6" fill="#d793ab" />
<polygon points="577.5,497.5 597.5,501 596,511.7 576.7,508" fill="#f9d3df" />
<polygon points="567,512.6 574,514.1 572.7,524.1 566,523.3" fill="#d793ab" />
<polygon points="566,511 573,512.5 571.7,522.5 565,521.7" fill="#f9d3df" />
<polygon points="588,486.7 599.7,488 598,498 587.5,496.7" fill="#fff" stroke="#9fb0bf" stroke-width="0.8" />
<polygon points="576,511.7 584,513 583,518 575.5,517" fill="#fff" stroke="#9fb0bf" stroke-width="0.8" />
<polygon points="575,520 590,522.5 589,530 574,527.5" fill="#fff" stroke="#9fb0bf" stroke-width="0.8" />
<polygon points="591,514 600,515.5 599.5,520 590.5,518.5" fill="#fff" stroke="#9fb0bf" stroke-width="0.8" />
<polygon points="566,530 597.5,536 596.7,541.7 565,536" fill="#fff" stroke="#9fb0bf" stroke-width="0.8" />
<polygon points="528,581.7 573,588 571,602.5 566,601.7 565,604 529,596" fill="#fff" stroke="#9fb0bf" stroke-width="0.8" />
<polygon points="520,571 530,571.7 526.7,590 517.5,588" fill="#fff" stroke="#9fb0bf" stroke-width="0.8" />
<polygon points="510,597.5 521.7,600 519,617.5 507.5,616" fill="#fff" stroke="#9fb0bf" stroke-width="0.8" />
<polygon points="555,620 561.7,621 560,631 553.7,630" fill="#fff" stroke="#9fb0bf" stroke-width="0.8" />
<circle cx="574" cy="553" r="7" fill="#fff" stroke="#9fb0bf" stroke-width=".8"/>
<circle cx="609" cy="446" r="4" fill="#fff" stroke="#9fb0bf" stroke-width=".8"/>
<polygon points="570.5,651.5 587.7,655 585.4,697.3 566,695" fill="#fbe6d4" stroke="#f0cdb2" stroke-width="0.5" />
<polygon points="594.6,681 606,683.5 603.7,698.4 592.3,696" fill="#fbe6d4" stroke="#f0cdb2" stroke-width="0.5" />
<polygon points="594.6,657 608.3,659.5 606,679 593.4,676.7" fill="#c6dcb0" stroke="#b1cc9c" stroke-width="0.5" />
<polygon points="543,430 566,428 567,448 544,450" fill="#c6dcb0" stroke="#b1cc9c" stroke-width="0.5" />
<polygon points="665,583.3 675,583.3 675,589.6 665,589.6" fill="#84b3ab" />
<polygon points="664,581.7 674,581.7 674,588 664,588" fill="#b5dbd4" />
<polygon points="685,585.6 708.5,587.6 707.7,597.6 701,597.6 700,591.6 685,590.6" fill="#84b3ab" />
<polygon points="684,584 707.5,586 706.7,596 700,596 699,590 684,589" fill="#b5dbd4" />
<polygon points="699,580.6 708.5,581.6 708.5,586.6 699,586.3" fill="#84b3ab" />
<polygon points="698,579 707.5,580 707.5,585 698,584.7" fill="#b5dbd4" />
<polygon points="646,609.1 665,599.6 674,599.1 678.5,605.6 691,616.6 687.7,619.6 684,621.6 674,613.3 662.7,611.6 651,618.3" fill="#84b3ab" />
<polygon points="645,607.5 664,598 673,597.5 677.5,604 690,615 686.7,618 683,620 673,611.7 661.7,610 650,616.7" fill="#b5dbd4" />
<polygon points="687.7,620.6 699,624.1 689,641.6 683.5,645.6 677.7,643.3 667,648.3 666,639.6 677.7,637.6 682,639.1" fill="#84b3ab" />
<polygon points="686.7,619 698,622.5 688,640 682.5,644 676.7,641.7 666,646.7 665,638 676.7,636 681,637.5" fill="#b5dbd4" />
<polygon points="686.7,644 695,638 701.7,646.7 693,652.5" fill="#fff" stroke="#9fb0bf" stroke-width="0.8" />
<polygon points="686,567 695,567.5 694.5,572 685.5,571.5" fill="#fff" stroke="#9fb0bf" stroke-width="0.8" />
<polygon points="710,565 721,565.5 720.5,568.5 709.5,568" fill="#fff" stroke="#9fb0bf" stroke-width="0.8" />
<polygon points="706,602.5 726,604 721.7,646 701.7,643" fill="#fbe6d4" stroke="#f0cdb2" stroke-width="0.5" />
<polygon points="737.7,572.6 756,574.1 755.7,581.6 737.7,580.3" fill="#d4c58c" />
<polygon points="736.7,571 755,572.5 754.7,580 736.7,578.7" fill="#fdf1c4" />
<polygon points="727.7,582.6 763.5,585.3 762.7,593.3 727.7,590.6" fill="#d4c58c" />
<polygon points="726.7,581 762.5,583.7 761.7,591.7 726.7,589" fill="#fdf1c4" />
<polygon points="737,599.1 759,600.6 758.7,606.6 737,605.6" fill="#d4c58c" />
<polygon points="736,597.5 758,599 757.7,605 736,604" fill="#fdf1c4" />
<polygon points="774.7,569.1 802,572.6 801,579.1 774.7,575.6" fill="#d4c58c" />
<polygon points="773.7,567.5 801,571 800,577.5 773.7,574" fill="#fdf1c4" />
<polygon points="784.7,582.6 806,585.3 804.7,595.3 784.7,592.6" fill="#d4c58c" />
<polygon points="783.7,581 805,583.7 803.7,593.7 783.7,591" fill="#fdf1c4" />
<polygon points="385,557.6 393.5,558.3 392.7,565.6 384,564.6" fill="#99a3cf" />
<polygon points="384,556 392.5,556.7 391.7,564 383,563" fill="#c6cdea" />
<polygon points="398.5,559.6 414,561.6 413.5,569.1 397.7,567.6" fill="#99a3cf" />
<polygon points="397.5,558 413,560 412.5,567.5 396.7,566" fill="#c6cdea" />
<polygon points="384.7,566.6 393.5,567.6 392,575.6 383.5,574.6" fill="#99a3cf" />
<polygon points="383.7,565 392.5,566 391,574 382.5,573" fill="#c6cdea" />
<polygon points="407,569.1 413.5,569.6 412,581.6 405,580.6" fill="#99a3cf" />
<polygon points="406,567.5 412.5,568 411,580 404,579" fill="#c6cdea" />
<polygon points="380,576.6 392.7,577.6 387.7,624.6 374,622.6" fill="#99a3cf" />
<polygon points="379,575 391.7,576 386.7,623 373,621" fill="#c6cdea" />
<polygon points="392.7,580.6 419,584.6 417.7,593.3 391,589.6" fill="#99a3cf" />
<polygon points="391.7,579 418,583 416.7,591.7 390,588" fill="#c6cdea" />
<polygon points="424,579.1 434,580.6 426,631.6 417,629.6" fill="#99a3cf" />
<polygon points="423,577.5 433,579 425,630 416,628" fill="#c6cdea" />
<polygon points="390,608.3 416,612.6 414,625.6 408.5,624.6 409,619.6 388.5,616.6" fill="#99a3cf" />
<polygon points="389,606.7 415,611 413,624 407.5,623 408,618 387.5,615" fill="#c6cdea" />
<polygon points="431,601.6 441,603.3 439,611.6 430,609.6" fill="#99a3cf" />
<polygon points="430,600 440,601.7 438,610 429,608" fill="#c6cdea" />
<polygon points="442.7,580.6 450,581.6 449,585.6 442,584.6" fill="#99a3cf" />
<polygon points="441.7,579 449,580 448,584 441,583" fill="#c6cdea" />
<polygon points="441,586.6 446,587.6 444,595.6 439,594.6" fill="#99a3cf" />
<polygon points="440,585 445,586 443,594 438,593" fill="#c6cdea" />
<polygon points="459,567.5 465,568 460,610 452.5,609" fill="#fff" stroke="#9fb0bf" stroke-width="0.8" />
<polygon points="371,624 390,626 389,635 370,633" fill="#c6dcb0" stroke="#b1cc9c" stroke-width="0.5" />
<polygon points="447.7,644.6 459,643.3 465,666.6 453.5,670.6" fill="#7aaed6" />
<polygon points="446.7,643 458,641.7 464,665 452.5,669" fill="#a9d4ef" />
<polygon points="484,640.6 497.7,642.6 493.5,666.6 482,664.6" fill="#7aaed6" />
<polygon points="483,639 496.7,641 492.5,665 481,663" fill="#a9d4ef" />
<polygon points="454,677.6 482.7,669.6 487.7,674.6 484,679.6 457.7,688.3" fill="#7aaed6" />
<polygon points="453,676 481.7,668 486.7,673 483,678 456.7,686.7" fill="#a9d4ef" />
<polygon points="391,674.1 402.7,670.6 406,674.1 411,671.6 410,664.6 412.7,658.3 421,654.6 424,658.3 423.5,666.6 419,673.3 414,677.6 407.7,683.3 412.7,689.1 414,694.1 427.7,689.1 434,701.6 407.7,714.1 402.7,703.3 398.5,694.6 396,689.6 393.5,683.3" fill="#c497c4" />
<polygon points="390,672.5 401.7,669 405,672.5 410,670 409,663 411.7,656.7 420,653 423,656.7 422.5,665 418,671.7 413,676 406.7,681.7 411.7,687.5 413,692.5 426.7,687.5 433,700 406.7,712.5 401.7,701.7 397.5,693 395,688 392.5,681.7" fill="#e2c8e2" />
<polygon points="419,743.3 442.7,739.6 464,729.1 470,736.6 456,744.1 457.7,748.3 463.5,758.3 464,768.3 441,774.6 439,769.6 434,772.6 435,776.6 422.7,780.6 418.5,769.6 419,761.6 431,756.6 428.5,751.6 421,752.6" fill="#d99a7c" />
<polygon points="418,741.7 441.7,738 463,727.5 469,735 455,742.5 456.7,746.7 462.5,756.7 463,766.7 440,773 438,768 433,771 434,775 421.7,779 417.5,768 418,760 430,755 427.5,750 420,751" fill="#f9c8ae" />
<polygon points="459,771 468,768 470,773 461,776.7" fill="#fff" stroke="#9fb0bf" stroke-width="0.8" />
<polygon points="485,756 489,755 491,764 486.7,765" fill="#fff" stroke="#9fb0bf" stroke-width="0.8" />
<polygon points="484,733 493,731.7 500,748 504,770 495,771" fill="#fbe6d4" stroke="#f0cdb2" stroke-width="0.5" />
<polygon points="508.5,739 523.4,729.8 525.7,734.4 514.2,741.3 517.7,753.9 513,756.2" fill="#d99a7c" />
<polygon points="507.5,737.4 522.4,728.2 524.7,732.8 513.2,739.7 516.7,752.3 512,754.6" fill="#f9c8ae" />
<polygon points="500.6,743 504,742 506.4,751 503,752.3" fill="#fff" stroke="#9fb0bf" stroke-width="0.8" />
<polygon points="594.6,716.8 601.4,718 600.3,729.4 593.4,728.2" fill="#fff" stroke="#9fb0bf" stroke-width="0.8" />
<polygon points="532,703 540,704 539,710 531,709" fill="#fff" stroke="#9fb0bf" stroke-width="0.8" />
<polygon points="161,327.6 169.7,327.6 172,334.1 172,342.6 161,342.6" fill="#a9b7c4" />
<polygon points="160,326 168.7,326 171,332.5 171,341 160,341" fill="#ffffff" />
<polygon points="176.5,330.3 183.5,330.3 183.5,344.1 176.5,344.1" fill="#a9b7c4" />
<polygon points="175.5,328.7 182.5,328.7 182.5,342.5 175.5,342.5" fill="#ffffff" />
<polygon points="186,325.3 196,325.3 196,345.3 186,345.3" fill="#a9b7c4" />
<polygon points="185,323.7 195,323.7 195,343.7 185,343.7" fill="#ffffff" />
<polygon points="199.7,329.1 202,329.1 202,337.6 199.7,337.6" fill="#a9b7c4" />
<polygon points="198.7,327.5 201,327.5 201,336 198.7,336" fill="#ffffff" />
<polygon points="206.7,329.6 228,329.6 228,339.6 206.7,339.6" fill="#a9b7c4" />
<polygon points="205.7,328 227,328 227,338 205.7,338" fill="#ffffff" />
<polygon points="168.5,349.1 186,349.1 186,357.6 183.5,357.6 183.5,369.1 173.5,369.1 173.5,357.6 168.5,357.6" fill="#a9b7c4" />
<polygon points="167.5,347.5 185,347.5 185,356 182.5,356 182.5,367.5 172.5,367.5 172.5,356 167.5,356" fill="#ffffff" />
<polygon points="188,351.6 198,351.6 198,369.1 188,369.1" fill="#a9b7c4" />
<polygon points="187,350 197,350 197,367.5 187,367.5" fill="#ffffff" />
<polygon points="202,344.6 213.5,344.6 213.5,369.6 202,369.6" fill="#a9b7c4" />
<polygon points="201,343 212.5,343 212.5,368 201,368" fill="#ffffff" />
<polygon points="216.5,343.6 226.5,343.6 226.5,370.3 216.5,370.3" fill="#a9b7c4" />
<polygon points="215.5,342 225.5,342 225.5,368.7 215.5,368.7" fill="#ffffff" />
<polygon points="180.5,374.1 187,374.1 187,389.6 180.5,389.6" fill="#a9b7c4" />
<polygon points="179.5,372.5 186,372.5 186,388 179.5,388" fill="#ffffff" />
<polygon points="150.5,384.6 155,384.6 155,381.6 158,381.6 158,384.6 162,384.6 162,388.6 150.5,388.6" fill="#a9b7c4" />
<polygon points="149.5,383 154,383 154,380 157,380 157,383 161,383 161,387 149.5,387" fill="#ffffff" />
<polygon points="189.7,371.6 210.5,371.6 210.5,385.3 199.7,385.3 199.7,399.1 190.5,399.1" fill="#9d95c2" />
<polygon points="188.7,370 209.5,370 209.5,383.7 198.7,383.7 198.7,397.5 189.5,397.5" fill="#c6bfde" />
<polygon points="193.5,399.1 203.5,399.1 203.5,394.1 218.5,389.1 230.5,389.1 230.5,427.6 219,427.6 219,411.6 203.5,411.6 203.5,407.6 193.5,406.6" fill="#d793ab" />
<polygon points="192.5,397.5 202.5,397.5 202.5,392.5 217.5,387.5 229.5,387.5 229.5,426 218,426 218,410 202.5,410 202.5,406 192.5,405" fill="#f9d3df" />
<polygon points="552.5,413.6 562,413.6 564,417.6 564,426.2 554,426.2" fill="#7aaed6" />
<polygon points="551.5,412 561,412 563,416 563,424.6 553,424.6" fill="#a9d4ef" />
<g transform="translate(711,613) rotate(5)" fill="none" stroke="#f0cdb2" stroke-width=".5"><rect x="-2.8" y="-7.0" width="5.6" height="14"/><line x1="-2.8" y1="0" x2="2.8" y2="0"/><line x1="0" y1="-5.0" x2="0" y2="5.0"/></g>
<g transform="translate(720.5,614) rotate(5)" fill="none" stroke="#f0cdb2" stroke-width=".5"><rect x="-2.8" y="-7.0" width="5.6" height="14"/><line x1="-2.8" y1="0" x2="2.8" y2="0"/><line x1="0" y1="-5.0" x2="0" y2="5.0"/></g>
<g transform="translate(708,634) rotate(5)" fill="none" stroke="#f0cdb2" stroke-width=".5"><rect x="-2.8" y="-7.0" width="5.6" height="14"/><line x1="-2.8" y1="0" x2="2.8" y2="0"/><line x1="0" y1="-5.0" x2="0" y2="5.0"/></g>
<g transform="translate(717.5,635) rotate(5)" fill="none" stroke="#f0cdb2" stroke-width=".5"><rect x="-2.8" y="-7.0" width="5.6" height="14"/><line x1="-2.8" y1="0" x2="2.8" y2="0"/><line x1="0" y1="-5.0" x2="0" y2="5.0"/></g>
<g transform="translate(575,663) rotate(5)" fill="none" stroke="#f0cdb2" stroke-width=".5"><rect x="-2.3" y="-6.5" width="4.6" height="13"/><line x1="-2.3" y1="0" x2="2.3" y2="0"/><line x1="0" y1="-4.5" x2="0" y2="4.5"/></g>
<g transform="translate(582.5,664) rotate(5)" fill="none" stroke="#f0cdb2" stroke-width=".5"><rect x="-2.3" y="-6.5" width="4.6" height="13"/><line x1="-2.3" y1="0" x2="2.3" y2="0"/><line x1="0" y1="-4.5" x2="0" y2="4.5"/></g>
<g transform="translate(573,684) rotate(5)" fill="none" stroke="#f0cdb2" stroke-width=".5"><rect x="-2.3" y="-6.5" width="4.6" height="13"/><line x1="-2.3" y1="0" x2="2.3" y2="0"/><line x1="0" y1="-4.5" x2="0" y2="4.5"/></g>
<g transform="translate(580.5,685) rotate(5)" fill="none" stroke="#f0cdb2" stroke-width=".5"><rect x="-2.3" y="-6.5" width="4.6" height="13"/><line x1="-2.3" y1="0" x2="2.3" y2="0"/><line x1="0" y1="-4.5" x2="0" y2="4.5"/></g>
<g transform="translate(332,299) rotate(0)" fill="none" stroke="#f0cdb2" stroke-width=".5"><rect x="-2.8" y="-1.5" width="5.6" height="3"/><line x1="-2.8" y1="0" x2="2.8" y2="0"/><line x1="0" y1="0.5" x2="0" y2="-0.5"/></g>
<g transform="translate(337,299) rotate(0)" fill="none" stroke="#f0cdb2" stroke-width=".5"><rect x="-2.8" y="-1.5" width="5.6" height="3"/><line x1="-2.8" y1="0" x2="2.8" y2="0"/><line x1="0" y1="0.5" x2="0" y2="-0.5"/></g>
<g transform="translate(536.5,516) rotate(3)" fill="none" stroke="#f0cdb2" stroke-width=".5"><rect x="-3.3" y="-2.0" width="6.6" height="4"/><line x1="-3.3" y1="0" x2="3.3" y2="0"/><line x1="0" y1="0.0" x2="0" y2="0.0"/></g>
<g transform="translate(616,365.5) rotate(-38)" fill="none" stroke="#f0cdb2" stroke-width=".5"><rect x="-2.8" y="-5.5" width="5.6" height="11"/><line x1="-2.8" y1="0" x2="2.8" y2="0"/><line x1="0" y1="-3.5" x2="0" y2="3.5"/></g>
<g transform="translate(513,237) rotate(48)" fill="none" stroke="#f0cdb2" stroke-width=".5"><rect x="-2.8" y="-5.5" width="5.6" height="11"/><line x1="-2.8" y1="0" x2="2.8" y2="0"/><line x1="0" y1="-3.5" x2="0" y2="3.5"/></g>
<g transform="translate(492,750) rotate(-20)" fill="none" stroke="#f0cdb2" stroke-width=".5"><rect x="-2.3" y="-6.5" width="4.6" height="13"/><line x1="-2.3" y1="0" x2="2.3" y2="0"/><line x1="0" y1="-4.5" x2="0" y2="4.5"/></g>
<g transform="translate(601,668) rotate(6)" fill="none" stroke="#a9c795" stroke-width=".5"><rect x="-3.3" y="-7.0" width="6.6" height="14"/><line x1="-3.3" y1="0" x2="3.3" y2="0"/><line x1="0" y1="-5.0" x2="0" y2="5.0"/></g>
<g transform="translate(371.5,518) rotate(0)" fill="none" stroke="#a9c795" stroke-width=".5"><rect x="-2.8" y="-7.0" width="5.6" height="14"/><line x1="-2.8" y1="0" x2="2.8" y2="0"/><line x1="0" y1="-5.0" x2="0" y2="5.0"/></g>
<g transform="translate(555,439) rotate(-4)" fill="none" stroke="#a9c795" stroke-width=".5"><rect x="-7.8" y="-5.5" width="15.6" height="11"/><line x1="-7.8" y1="0" x2="7.8" y2="0"/><line x1="0" y1="-3.5" x2="0" y2="3.5"/></g>
<g transform="translate(380,630) rotate(6)" fill="none" stroke="#a9c795" stroke-width=".5"><rect x="-6.8" y="-2.5" width="13.6" height="5"/><line x1="-6.8" y1="0" x2="6.8" y2="0"/><line x1="0" y1="-0.5" x2="0" y2="0.5"/></g>
<polygon points="581.4,431.9 592.4,431.2 592.8,439.9 582,440.6" fill="#d793ab" />
<polygon points="580.4,430.3 591.4,429.6 591.8,438.3 581,439" fill="#f9d3df" />
<!-- overlay.py -->
<path d="M507.5 2.5 C532.1 34.4 621.4 149.4 655 194 C688.6 238.6 693.2 247.7 709 270 C724.8 292.3 736.9 310.2 750 328 C763.1 345.8 776.7 357.5 787.5 377 C798.3 396.5 807.8 424.0 815 445 C822.2 466.0 825.3 483.0 831 503 C836.7 523.0 842.8 550.3 849 565 C855.2 579.7 860.3 584.3 868 591 C875.7 597.7 882.2 601.5 895 605 C907.8 608.5 936.7 610.8 945 612" fill="none" stroke="#8c9a9b" stroke-width="2.5" />
<path d="M507.5 2.5 C532.1 34.4 621.4 149.4 655 194 C688.6 238.6 693.2 247.7 709 270 C724.8 292.3 736.9 310.2 750 328 C763.1 345.8 776.7 357.5 787.5 377 C798.3 396.5 807.8 424.0 815 445 C822.2 466.0 825.3 483.0 831 503 C836.7 523.0 842.8 550.3 849 565 C855.2 579.7 860.3 584.3 868 591 C875.7 597.7 882.2 601.5 895 605 C907.8 608.5 936.7 610.8 945 612" fill="none" stroke="#d6d9d9" stroke-width="1.6" transform="translate(-0.4,-0.15)"/>
<path d="M514 2.5 C538.8 34.4 628.8 149.4 662.5 194 C696.2 238.6 700.7 247.7 716.5 270 C732.3 292.3 744.5 310.2 757.5 328 C770.5 345.8 783.8 357.5 794.5 377 C805.2 396.5 814.3 424.0 821.5 445 C828.7 466.0 831.8 483.3 837.5 503 C843.2 522.7 849.5 549.2 855.5 563 C861.5 576.8 866.4 580.2 873.5 586 C880.6 591.8 886.1 595.0 898 598 C909.9 601.0 937.2 603.0 945 604" fill="none" stroke="#8c9a9b" stroke-width="2.5" />
<path d="M514 2.5 C538.8 34.4 628.8 149.4 662.5 194 C696.2 238.6 700.7 247.7 716.5 270 C732.3 292.3 744.5 310.2 757.5 328 C770.5 345.8 783.8 357.5 794.5 377 C805.2 396.5 814.3 424.0 821.5 445 C828.7 466.0 831.8 483.3 837.5 503 C843.2 522.7 849.5 549.2 855.5 563 C861.5 576.8 866.4 580.2 873.5 586 C880.6 591.8 886.1 595.0 898 598 C909.9 601.0 937.2 603.0 945 604" fill="none" stroke="#d6d9d9" stroke-width="1.6" transform="translate(-0.4,-0.15)"/>
<polyline points="537,17 672,194 730,275" fill="none" stroke="#b9c4c4" stroke-width="0.8" />
<rect x="885" y="585" width="62" height="45" fill="url(#fade)"/>
<rect x="500" y="0" width="50" height="14" fill="url(#fadev)"/>
<polygon points="817,450.6 829,448 837,496 826.6,500" fill="#fff" stroke="#c5cdd0" stroke-width="0.6" />
<polygon points="812,531 836,530 838,537 822,539 812,537" fill="#d4e8f6" />
<polygon points="800,473 817,470 818,474.5 801,477.5" fill="#fff" stroke="#9fb0bf" stroke-width="0.7" />
<polygon points="761.9,294.7 771,288.8 769.5,285.4 773,283 776,287 786.4,280.3 788,283.7 764.4,299" fill="#fff" stroke="#9fb0bf" stroke-width="0.7" />
<polyline points="82,667 240,796" fill="none" stroke="#6f7575" stroke-width="2" />
<path d="M683.7 728.7 C684.0 726.4 683.5 720.6 685.5 714.6 C687.5 708.6 689.2 701.9 696 693 C702.8 684.1 713.3 670.2 726 661 C738.7 651.8 754.2 643.8 772 638 C789.8 632.2 814.2 628.2 832.5 626 C850.8 623.8 873.8 625.2 882 625" fill="none" stroke="#b3bdbf" stroke-width="0.7" />
<path d="M688 730 C688.5 725.7 688.5 711.0 691 704 C693.5 697.0 696.0 694.5 703 688 C710.0 681.5 720.5 672.7 733 665 C745.5 657.3 761.5 647.8 778 642 C794.5 636.2 816.7 632.2 832 630 C847.3 627.8 863.7 629.2 870 629" fill="none" stroke="#b3bdbf" stroke-width="0.7" />
<path d="M683.7 728.7 C684.9 729.2 685.8 730.0 690.8 732 C695.8 734.0 710.0 739.5 713.8 741" fill="none" stroke="#b3bdbf" stroke-width="0.7" />
<path d="M682 735.8 C683.8 736.2 694.1 731.3 692.6 738.3 C691.1 745.3 677.4 771.6 673 778 C668.6 784.4 664.5 783.5 666 776.5 C667.5 769.5 679.3 742.6 682 735.8" fill="none" stroke="#b3bdbf" stroke-width="0.7" />
<path d="M664 787 C665.5 787.3 674.4 782.5 673 789 C671.6 795.5 658.3 819.8 655.4 826" fill="none" stroke="#b3bdbf" stroke-width="0.7" />
<path d="M664 787 L650 826" fill="none" stroke="#b3bdbf" stroke-width="0.7" />
<path d="M673 728.7 C670.8 734.2 665.3 749.0 660 762 C654.7 775.0 644.2 799.2 641 806.6" fill="none" stroke="#b3bdbf" stroke-width="0.7" />
<path d="M696 740 L712 744" fill="none" stroke="#b3bdbf" stroke-width="0.7" />
<path d="M700 742 C696.7 750.0 685.5 776.0 680 790 C674.5 804.0 669.2 820.0 667 826" fill="none" stroke="#b3bdbf" stroke-width="0.7" />
<path d="M642 804 C635.0 801.7 613.7 794.3 600 790 C586.3 785.7 576.7 780.0 560 778 C543.3 776.0 521.7 774.7 500 778 C478.3 781.3 441.7 794.7 430 798" fill="none" stroke="#b3bdbf" stroke-width="0.7" />
<path d="M415 806 C416.7 805.0 412.5 803.8 425 800 C437.5 796.2 472.5 786.0 490 783 C507.5 780.0 520.8 780.8 530 782 C539.2 783.2 542.0 787.0 545 790 C548.0 793.0 547.5 798.3 548 800" fill="none" stroke="#b3bdbf" stroke-width="0.7" />
<path d="M552 800 C552.7 798.0 553.0 790.7 556 788 C559.0 785.3 556.0 780.7 570 784 C584.0 787.3 628.3 804.0 640 808" fill="none" stroke="#b3bdbf" stroke-width="0.7" />
<path d="M640 808 L636 826" fill="none" stroke="#b3bdbf" stroke-width="0.7" />
<path d="M408 800 C410.0 802.0 416.3 807.7 420 812 C423.7 816.3 428.3 823.7 430 826" fill="none" stroke="#b3bdbf" stroke-width="0.7" />
<path d="M86 512 C89.3 515.2 99.8 525.3 106 531 C112.2 536.7 115.8 541.1 123 546 C130.2 550.9 138.7 556.6 149 560.5 C159.3 564.4 173.2 568.3 185 569.5 C196.8 570.7 207.5 568.2 220 567.5 C232.5 566.8 250.5 565.7 260 565.5 C269.5 565.3 271.7 565.1 277 566.5 C282.3 567.9 287.3 569.6 292 574 C296.7 578.4 301.2 585.0 305 593 C308.8 601.0 310.2 609.5 315 622 C319.8 634.5 328.5 651.3 334 668 C339.5 684.7 342.7 706.2 348 722 C353.3 737.8 356.3 748.7 366 763 C375.7 777.3 399.3 800.5 406 808" fill="none" stroke="#b3bdbf" stroke-width="0.7" />
<path d="M60 326 C65.0 326.5 80.0 329.2 90 329 C100.0 328.8 110.7 326.8 120 325 C129.3 323.2 141.7 319.2 146 318" fill="none" stroke="#b3bdbf" stroke-width="0.7" />
<path d="M62 333 C66.3 333.5 81.5 331.8 88 336 C94.5 340.2 99.0 353.2 101 358 C103.0 362.8 104.8 362.0 100 365 C95.2 368.0 76.7 374.2 72 376" fill="none" stroke="#b3bdbf" stroke-width="0.7" />
<path d="M86 512 L80 505" fill="none" stroke="#b3bdbf" stroke-width="0.7" />
<polyline points="9.7,566.6 36.3,592" fill="none" stroke="#9fcdea" stroke-width="3" />
<polyline points="44.8,600.5 132,681.6" fill="none" stroke="#9fcdea" stroke-width="3" />
<path d="M15.7 564 C19.5 567.5 33.9 581.2 38.7 584.7 C43.6 588.2 37.9 590.2 44.8 584.7 C51.7 579.2 73.8 559.9 80 552 C86.2 544.1 81.9 539.9 82.3 537.5" fill="none" stroke="#aab4b6" stroke-width="0.7" />
<path d="M48.4 592 C54.5 586.3 75.8 564.2 84.7 558 C93.6 551.8 99.7 556.5 101.7 554.5 C103.7 552.5 96.1 549.0 96.9 546 C97.7 543.0 104.9 537.9 106.5 536.3" fill="none" stroke="#aab4b6" stroke-width="0.7" />
<path d="M3.6 575 C7.0 578.2 21.6 589.1 24.2 594.4 C26.8 599.6 20.2 604.5 19.4 606.5" fill="none" stroke="#aab4b6" stroke-width="0.7" />
<path d="M25.4 618.6 C27.2 617.4 28.8 607.8 36.3 611.4 C43.8 615.0 57.9 629.6 70.2 640.4 C82.5 651.2 103.4 670.1 110 676" fill="none" stroke="#aab4b6" stroke-width="0.7" />
<path d="M41.2 603 C42.4 602.2 33.6 586.8 48.4 598 C63.2 609.2 115.4 657.0 130 670 C144.6 683.0 135.0 675.0 136 676" fill="none" stroke="#aab4b6" stroke-width="0.7" />
<path d="M89.6 514.5 C91.2 516.1 98.1 521.0 99.3 524.2 C100.5 527.5 95.7 532.0 96.9 534 C98.1 536.0 104.9 535.9 106.5 536.3" fill="none" stroke="#aab4b6" stroke-width="0.7" />
<path d="M12 570 L33 590" fill="none" stroke="#aab4b6" stroke-width="0.7" />
<path d="M18 563 L40 583" fill="none" stroke="#aab4b6" stroke-width="0.7" />
<path d="M52 603 L128 674" fill="none" stroke="#aab4b6" stroke-width="0.7" />
<path d="M99 645 C99.8 644.2 101.2 638.8 104 640 C106.8 641.2 112.8 650.3 116 652 C119.2 653.7 122.2 648.8 123 650 C123.8 651.2 121.3 657.5 121 659" fill="none" stroke="#aab4b6" stroke-width="0.7" />
<path d="M86 522 C87.5 523.3 94.0 527.0 95 530 C96.0 533.0 93.8 537.3 92 540 C90.2 542.7 85.3 545.0 84 546" fill="none" stroke="#aab4b6" stroke-width="0.7" />
<polygon points="36.3,634.4 43.6,628.3 84.7,664.6 78.7,670.7" fill="#fff" stroke="#aab4b6" stroke-width="0.8" />
<polyline points="43.6,628.3 84.7,664.6 78.7,670.7" fill="none" stroke="#6f7d80" stroke-width="0.9" />
<rect x="521.5" y="194" width="400" height="74.5" fill="#3f6374"/>
<text x="537" y="227" font-size="23.1" font-weight="bold" font-style="italic" fill="#fff" stroke="#fff" stroke-width=".45">The Center of Medical Innovation</text>
<text x="537" y="251.5" font-size="23.1" font-weight="bold" font-style="italic" fill="#fff" stroke="#fff" stroke-width=".45" textLength="287" lengthAdjust="spacingAndGlyphs">and Translational Research</text>
<polygon points="655,442.5 677.5,436 686,461 662.5,468.3" fill="#e60012" />
<polygon points="751,268 772,268 673.3,445.8" fill="#3f6374" />
<polygon points="460,461 821,365 874,560 511,657" fill="none" stroke="#4a4a4a" stroke-width="2.6" />
<polygon points="598,637 579,826 541,826" fill="#555" />
<polygon points="81,639 91,639 70,658" fill="#b5007f" />
<rect x="74" y="610" width="90.5" height="30" fill="#b5007f"/>
<text x="119.2" y="630" font-size="15.15" fill="#fff" text-anchor="middle">Kita-Senri</text>
<text x="74.5" y="605.5" font-size="9.9" fill="#b5007f">Hankyu Senri Line</text>
<polygon points="845,454 858.7,454 827.5,483.7" fill="#f29fc3" />
<rect x="818" y="424.5" width="140" height="29.5" fill="#f29fc3"/>
<text x="888" y="445" font-size="15.2" fill="#fff" text-anchor="middle">Handai-Byoin-Mae</text>
<text x="819.5" y="420" font-size="9.88" fill="#f29fc3">Osaka Monorail (Saito Line)</text>
<polygon points="787,483 800,510 792,510" fill="#e60012" />
<rect x="773" y="510" width="155" height="19.5" fill="#e60012"/>
<text x="779.5" y="524.5" font-size="11.62" fill="#fff">Handai-Igakubu-Byoin-Mae</text>
<polygon points="759.5,549.5 771,546.5 771,552.5" fill="#e60012" />
<rect x="770.7" y="539" width="120.3" height="19.7" fill="#e60012"/>
<text x="777" y="553" font-size="11.62" fill="#fff">Handai-Igakubu-Mae</text>
<circle cx="785.5" cy="478" r="6.5" fill="#231815"/>
<text x="785.5" y="479.8" font-size="5" fill="#fff" text-anchor="middle" font-weight="bold">BUS</text>
<circle cx="752.5" cy="549.5" r="6.5" fill="#231815"/>
<text x="752.5" y="551.3" font-size="5" fill="#fff" text-anchor="middle" font-weight="bold">BUS</text>
<circle cx="538.7" cy="551.7" r="6.5" fill="#231815"/>
<text x="538.7" y="553.5" font-size="5" fill="#fff" text-anchor="middle" font-weight="bold">BUS</text>
<text x="353" y="377" font-size="12.3" fill="#353130" text-anchor="middle" stroke="#fff" stroke-width="2.2" stroke-linejoin="round" paint-order="stroke" stroke-opacity=".75" >Graduate School of</text>
<text x="353" y="392" font-size="12.3" fill="#353130" text-anchor="middle" stroke="#fff" stroke-width="2.2" stroke-linejoin="round" paint-order="stroke" stroke-opacity=".75" >Engineering</text>
<text x="190" y="452" font-size="11.15" fill="#353130" text-anchor="start" stroke="#fff" stroke-width="2.2" stroke-linejoin="round" paint-order="stroke" stroke-opacity=".75" >Senri-mon Gate</text>
<text x="329.2" y="543" font-size="11.15" fill="#353130" text-anchor="start" stroke="#fff" stroke-width="2.2" stroke-linejoin="round" paint-order="stroke" stroke-opacity=".75" >West Gate</text>
<text x="753.75" y="425.75" font-size="11.15" fill="#353130" text-anchor="start" stroke="#fff" stroke-width="2.2" stroke-linejoin="round" paint-order="stroke" stroke-opacity=".75" >East Gate</text>
<text x="680.75" y="688" font-size="11.15" fill="#353130" text-anchor="start" stroke="#fff" stroke-width="2.2" stroke-linejoin="round" paint-order="stroke" stroke-opacity=".75" >Main Gate</text>
<text x="385" y="484.25" font-size="8.85" fill="#353130" text-anchor="start" stroke="#fff" stroke-width="2.2" stroke-linejoin="round" paint-order="stroke" stroke-opacity=".75" >TechnoAlliance</text>
<text x="397" y="493.75" font-size="8.85" fill="#353130" text-anchor="start" stroke="#fff" stroke-width="2.2" stroke-linejoin="round" paint-order="stroke" stroke-opacity=".75" >Complex</text>
<text x="493" y="480.5" font-size="11.2" fill="#353130" text-anchor="start" stroke="#fff" stroke-width="2.2" stroke-linejoin="round" paint-order="stroke" stroke-opacity=".75" >Institute of</text>
<text x="473.25" y="492.5" font-size="11.2" fill="#353130" text-anchor="start" stroke="#fff" stroke-width="2.2" stroke-linejoin="round" paint-order="stroke" stroke-opacity=".75" >Laser Engineering</text>
<text x="508" y="525" font-size="8.8" fill="#353130" text-anchor="start" stroke="#fff" stroke-width="2.2" stroke-linejoin="round" paint-order="stroke" stroke-opacity=".75" >Cafeteria and</text>
<text x="506.25" y="534.5" font-size="8.8" fill="#353130" text-anchor="start" stroke="#fff" stroke-width="2.2" stroke-linejoin="round" paint-order="stroke" stroke-opacity=".75" >Campus Store</text>
<text x="598" y="408.25" font-size="8.6" fill="#353130" text-anchor="start" stroke="#fff" stroke-width="2.2" stroke-linejoin="round" paint-order="stroke" stroke-opacity=".75" >Icho-kaikan</text>
<text x="687.5" y="456.8" font-size="12.3" fill="#353130" text-anchor="start" stroke="#fff" stroke-width="2.2" stroke-linejoin="round" paint-order="stroke" stroke-opacity=".75" >Osaka University</text>
<text x="712.3" y="472.5" font-size="12.3" fill="#353130" text-anchor="start" stroke="#fff" stroke-width="2.2" stroke-linejoin="round" paint-order="stroke" stroke-opacity=".75" >Hospital</text>
<text x="600.8" y="504.2" font-size="12.3" fill="#353130" text-anchor="start" stroke="#fff" stroke-width="2.2" stroke-linejoin="round" paint-order="stroke" stroke-opacity=".75" >Graduate School of</text>
<text x="628.7" y="520.8" font-size="12.3" fill="#353130" text-anchor="start" stroke="#fff" stroke-width="2.2" stroke-linejoin="round" paint-order="stroke" stroke-opacity=".75" >Medicine</text>
<text x="599.2" y="536.3" font-size="8.6" fill="#353130" text-anchor="start" stroke="#fff" stroke-width="2.2" stroke-linejoin="round" paint-order="stroke" stroke-opacity=".75" >Life Sciences</text>
<text x="612" y="546.3" font-size="8.6" fill="#353130" text-anchor="start" stroke="#fff" stroke-width="2.2" stroke-linejoin="round" paint-order="stroke" stroke-opacity=".75" >Library</text>
<text x="526.3" y="581.3" font-size="8.6" fill="#353130" text-anchor="start" stroke="#fff" stroke-width="2.2" stroke-linejoin="round" paint-order="stroke" stroke-opacity=".75" >Administration</text>
<text x="540" y="590.8" font-size="8.6" fill="#353130" text-anchor="start" stroke="#fff" stroke-width="2.2" stroke-linejoin="round" paint-order="stroke" stroke-opacity=".75" >Bureau</text>
<text x="510.8" y="610.8" font-size="8.6" fill="#353130" text-anchor="start" stroke="#fff" stroke-width="2.2" stroke-linejoin="round" paint-order="stroke" stroke-opacity=".75" >IC Hall</text>
<text x="547" y="614.2" font-size="8.6" fill="#353130" text-anchor="start" stroke="#fff" stroke-width="2.2" stroke-linejoin="round" paint-order="stroke" stroke-opacity=".75" >Administration Bureau</text>
<text x="565.5" y="624.2" font-size="8.6" fill="#353130" text-anchor="start" stroke="#fff" stroke-width="2.2" stroke-linejoin="round" paint-order="stroke" stroke-opacity=".75" >South Bldg.</text>
<text x="604.7" y="580.8" font-size="12.3" fill="#353130" text-anchor="start" stroke="#fff" stroke-width="2.2" stroke-linejoin="round" paint-order="stroke" stroke-opacity=".75" >Graduate School of</text>
<text x="604.7" y="595.8" font-size="12.3" fill="#353130" text-anchor="start" stroke="#fff" stroke-width="2.2" stroke-linejoin="round" paint-order="stroke" stroke-opacity=".75" >Human Sciences</text>
<text x="743.25" y="608" font-size="12.3" fill="#353130" text-anchor="start" stroke="#fff" stroke-width="2.2" stroke-linejoin="round" paint-order="stroke" stroke-opacity=".75" >Graduate School of</text>
<text x="743.25" y="623" font-size="12.3" fill="#353130" text-anchor="start" stroke="#fff" stroke-width="2.2" stroke-linejoin="round" paint-order="stroke" stroke-opacity=".75" >Frontier Bioscience</text>
<text x="533.2" y="672" font-size="8.6" fill="#353130" text-anchor="start" stroke="#fff" stroke-width="2.2" stroke-linejoin="round" paint-order="stroke" stroke-opacity=".75" >Gymnasium</text>
<text x="481.8" y="695.7" font-size="8.6" fill="#353130" text-anchor="start" stroke="#fff" stroke-width="2.2" stroke-linejoin="round" paint-order="stroke" stroke-opacity=".75" >Convention</text>
<text x="490.3" y="704.8" font-size="8.6" fill="#353130" text-anchor="start" stroke="#fff" stroke-width="2.2" stroke-linejoin="round" paint-order="stroke" stroke-opacity=".75" >Center</text>
<text x="259" y="590.5" font-size="12.5" fill="#353130" text-anchor="start" stroke="#fff" stroke-width="2.2" stroke-linejoin="round" paint-order="stroke" stroke-opacity=".75" >Graduate School of Dentistry</text>
<text x="248.5" y="606" font-size="12.5" fill="#353130" text-anchor="start" stroke="#fff" stroke-width="2.2" stroke-linejoin="round" paint-order="stroke" stroke-opacity=".75" >Osaka University Dental Hospital</text>
<text x="195" y="628" font-size="12.5" fill="#353130" text-anchor="start" stroke="#fff" stroke-width="2.2" stroke-linejoin="round" paint-order="stroke" stroke-opacity=".75" >Graduate School of</text>
<text x="195" y="643" font-size="12.5" fill="#353130" text-anchor="start" stroke="#fff" stroke-width="2.2" stroke-linejoin="round" paint-order="stroke" stroke-opacity=".75" >Information Science and Technology</text>
<text x="318.5" y="684" font-size="12.3" fill="#353130" text-anchor="start" stroke="#fff" stroke-width="2.2" stroke-linejoin="round" paint-order="stroke" stroke-opacity=".75" >Graduate School of</text>
<text x="347.5" y="699" font-size="12.3" fill="#353130" text-anchor="start" stroke="#fff" stroke-width="2.2" stroke-linejoin="round" paint-order="stroke" stroke-opacity=".75" >Medicine</text>
<text x="358" y="752.5" font-size="12.3" fill="#353130" text-anchor="start" stroke="#fff" stroke-width="2.2" stroke-linejoin="round" paint-order="stroke" stroke-opacity=".75" >Graduate School of</text>
<text x="342" y="767.5" font-size="12.3" fill="#353130" text-anchor="start" stroke="#fff" stroke-width="2.2" stroke-linejoin="round" paint-order="stroke" stroke-opacity=".75" >Pharmaceutical Sciences</text>
<text x="738.5" y="729.5" font-size="15.1" fill="#9b9b9b" text-anchor="start" >The Expo ’70</text>
<text x="738.5" y="748" font-size="15.1" fill="#9b9b9b" text-anchor="start" >Commemorative Park</text>
<text transform="translate(128,717) rotate(40)" font-size="10.2" fill="#231815" text-anchor="middle" y="3.6">Hankyu Senri Line</text>
<g transform="translate(761,312.5) rotate(55)" font-size="10" fill="#231815"><text x="0.8" y="-9.2" stroke="#fff" stroke-width="2" paint-order="stroke" stroke-opacity=".7">(Saito Line)</text><text x="0" y="3.6" stroke="#fff" stroke-width="2" paint-order="stroke" stroke-opacity=".7">Osaka Monorail</text></g>
<polyline points="557.5,536 572,551.3" fill="none" stroke="#231815" stroke-width="0.9" />
<circle cx="572" cy="551.3" r="2.4" fill="#231815"/>
<polyline points="560,616.7 557.5,625.3" fill="none" stroke="#231815" stroke-width="0.9" />
<circle cx="557.5" cy="625.3" r="2.4" fill="#231815"/>
<polyline points="399,639.7 457.5,662.5" fill="none" stroke="#231815" stroke-width="0.9" />
<circle cx="457.5" cy="662.5" r="2.4" fill="#231815"/>
<polyline points="507,665 504.5,690" fill="none" stroke="#231815" stroke-width="0.9" />
<circle cx="507" cy="665" r="2.4" fill="#231815"/>
</svg>
</body></html>
